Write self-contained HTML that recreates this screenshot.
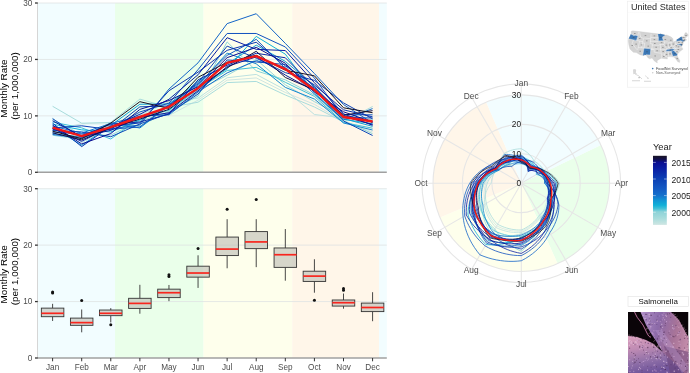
<!DOCTYPE html>
<html><head><meta charset="utf-8"><style>
html,body{margin:0;padding:0;background:#fff;width:690px;height:373px;overflow:hidden}
svg{display:block;will-change:transform}
text{font-family:"Liberation Sans",sans-serif}
.tk{font-size:8.2px;fill:#4d4d4d}
.yt{font-size:9.9px;fill:#000}
.pl{font-size:8.4px;fill:#4d4d4d}
.pr{font-size:8.4px;fill:#1a1a1a}
.lg{font-size:9.3px;fill:#1a1a1a}
.lt{font-size:8.6px;fill:#1a1a1a}
</style></head><body>
<svg width="690" height="373" viewBox="0 0 690 373">
<rect x="37.50" y="3.01" width="77.59" height="169.29" fill="#f2fdff"/><rect x="115.09" y="3.01" width="88.49" height="169.29" fill="#eaffea"/><rect x="203.58" y="3.01" width="88.72" height="169.29" fill="#feffec"/><rect x="292.30" y="3.01" width="86.69" height="169.29" fill="#fff6e9"/><rect x="378.99" y="3.01" width="7.81" height="169.29" fill="#f2fdff"/>
<line x1="37.5" x2="386.8" y1="115.87" y2="115.87" stroke="#dfe3e3" stroke-width="0.8"/>
<line x1="37.5" x2="386.8" y1="59.44" y2="59.44" stroke="#dfe3e3" stroke-width="0.8"/>
<line x1="37.5" x2="386.8" y1="3.01" y2="3.01" stroke="#dfe3e3" stroke-width="0.8"/>
<polyline points="52.60,129.86 81.69,123.77 110.78,123.88 139.87,113.32 168.96,115.47 198.05,100.16 227.14,80.16 256.23,77.92 285.32,92.45 314.41,104.35 343.50,121.50 372.59,131.85" fill="none" stroke="#cfe6e3" stroke-width="1.0" stroke-linejoin="round"/>
<polyline points="52.60,118.13 81.69,142.63 110.78,127.30 139.87,115.26 168.96,101.85 198.05,98.11 227.14,77.74 256.23,74.40 285.32,89.92 314.41,114.52 343.50,117.97 372.59,120.54" fill="none" stroke="#bce1e0" stroke-width="1.0" stroke-linejoin="round"/>
<polyline points="52.60,106.28 81.69,123.21 110.78,122.42 139.87,99.11 168.96,107.48 198.05,102.21 227.14,82.58 256.23,81.45 285.32,94.99 314.41,107.01 343.50,121.99 372.59,106.50" fill="none" stroke="#a8dcdc" stroke-width="1.0" stroke-linejoin="round"/>
<polyline points="52.60,119.45 81.69,134.77 110.78,135.16 139.87,121.02 168.96,112.09 198.05,90.06 227.14,75.32 256.23,59.42 285.32,84.84 314.41,101.70 343.50,116.74 372.59,119.70" fill="none" stroke="#9ad8da" stroke-width="1.0" stroke-linejoin="round"/>
<polyline points="52.60,135.28 81.69,139.24 110.78,124.80 139.87,125.98 168.96,111.22 198.05,96.06 227.14,41.90 256.23,70.87 285.32,79.87 314.41,94.97 343.50,120.51 372.59,133.68" fill="none" stroke="#8dd3d8" stroke-width="1.0" stroke-linejoin="round"/>
<polyline points="52.60,122.09 81.69,127.83 110.78,139.01 139.87,118.15 168.96,110.28 198.05,89.28 227.14,70.48 256.23,67.35 285.32,82.31 314.41,96.39 343.50,122.49 372.59,128.20" fill="none" stroke="#40c0d8" stroke-width="1.0" stroke-linejoin="round"/>
<polyline points="52.60,124.15 81.69,129.86 110.78,131.97 139.87,120.07 168.96,106.67 198.05,88.49 227.14,68.95 256.23,36.40 285.32,54.16 314.41,92.95 343.50,119.26 372.59,123.76" fill="none" stroke="#10b0d8" stroke-width="1.0" stroke-linejoin="round"/>
<polyline points="52.60,127.11 81.69,145.29 110.78,125.43 139.87,104.25 168.96,103.96 198.05,81.46 227.14,64.01 256.23,45.17 285.32,61.36 314.41,86.21 343.50,118.61 372.59,126.37" fill="none" stroke="#119dd5" stroke-width="1.0" stroke-linejoin="round"/>
<polyline points="52.60,133.65 81.69,137.18 110.78,122.78 139.87,128.00 168.96,105.32 198.05,85.37 227.14,53.09 256.23,63.82 285.32,87.38 314.41,99.04 343.50,122.98 372.59,130.03" fill="none" stroke="#1388d1" stroke-width="1.0" stroke-linejoin="round"/>
<polyline points="52.60,126.12 81.69,133.05 110.78,123.51 139.87,116.22 168.96,114.80 198.05,91.95 227.14,72.90 256.23,60.70 285.32,67.10 314.41,93.96 343.50,119.90 372.59,108.58" fill="none" stroke="#1470cc" stroke-width="1.0" stroke-linejoin="round"/>
<polyline points="52.60,134.47 81.69,138.21 110.78,128.74 139.87,124.97 168.96,89.07 198.05,62.83 227.14,23.61 256.23,13.73 285.32,43.36 314.41,73.55 343.50,104.58 372.59,122.97" fill="none" stroke="#1465c8" stroke-width="1.0" stroke-linejoin="round"/>
<polyline points="52.60,132.01 81.69,133.91 110.78,129.19 139.87,126.99 168.96,104.64 198.05,84.06 227.14,55.38 256.23,39.32 285.32,68.39 314.41,88.08 343.50,114.68 372.59,114.80" fill="none" stroke="#145ac4" stroke-width="1.0" stroke-linejoin="round"/>
<polyline points="52.60,118.69 81.69,137.69 110.78,128.28 139.87,111.95 168.96,103.13 198.05,69.60 227.14,33.48 256.23,33.48 285.32,46.96 314.41,78.10 343.50,117.32 372.59,118.02" fill="none" stroke="#1151bf" stroke-width="1.0" stroke-linejoin="round"/>
<polyline points="52.60,130.51 81.69,131.90 110.78,136.75 139.87,123.96 168.96,113.44 198.05,94.00 227.14,59.96 256.23,61.98 285.32,64.52 314.41,89.02 343.50,121.00 372.59,135.51" fill="none" stroke="#0f49b9" stroke-width="1.0" stroke-linejoin="round"/>
<polyline points="52.60,127.93 81.69,125.80 110.78,129.64 139.87,106.82 168.96,105.99 198.05,82.76 227.14,46.11 256.23,58.14 285.32,72.64 314.41,80.38 343.50,102.89 372.59,118.86" fill="none" stroke="#0c40b4" stroke-width="1.0" stroke-linejoin="round"/>
<polyline points="52.60,123.16 81.69,146.62 110.78,126.05 139.87,122.95 168.96,90.76 198.05,72.16 227.14,50.32 256.23,42.25 285.32,65.81 314.41,84.94 343.50,109.80 372.59,116.87" fill="none" stroke="#0b35af" stroke-width="1.0" stroke-linejoin="round"/>
<polyline points="52.60,129.22 81.69,135.63 110.78,124.24 139.87,121.98 168.96,114.12 198.05,79.85 227.14,65.24 256.23,53.27 285.32,57.76 314.41,87.15 343.50,115.71 372.59,121.38" fill="none" stroke="#0b2ba9" stroke-width="1.0" stroke-linejoin="round"/>
<polyline points="52.60,128.57 81.69,141.29 110.78,126.67 139.87,114.29 168.96,99.28 198.05,74.72 227.14,37.69 256.23,49.34 285.32,50.56 314.41,82.66 343.50,113.79 372.59,125.33" fill="none" stroke="#0a20a4" stroke-width="1.0" stroke-linejoin="round"/>
<polyline points="52.60,120.77 81.69,136.49 110.78,130.38 139.87,117.19 168.96,112.77 198.05,90.85 227.14,66.48 256.23,56.86 285.32,75.05 314.41,90.93 343.50,116.22 372.59,124.54" fill="none" stroke="#0a179b" stroke-width="1.0" stroke-linejoin="round"/>
<polyline points="52.60,125.14 81.69,143.96 110.78,133.56 139.87,109.39 168.96,100.56 198.05,86.67 227.14,57.67 256.23,47.37 285.32,63.23 314.41,91.94 343.50,111.79 372.59,122.19" fill="none" stroke="#0a0e92" stroke-width="1.0" stroke-linejoin="round"/>
<polyline points="52.60,132.83 81.69,139.96 110.78,127.83 139.87,119.11 168.96,109.35 198.05,87.71 227.14,67.72 256.23,51.31 285.32,77.46 314.41,89.95 343.50,115.19 372.59,110.65" fill="none" stroke="#121048" stroke-width="1.0" stroke-linejoin="round"/>
<polyline points="52.60,131.20 81.69,138.72 110.78,123.15 139.87,101.68 168.96,108.41 198.05,77.29 227.14,62.25 256.23,55.24 285.32,70.24 314.41,75.83 343.50,107.80 372.59,112.73" fill="none" stroke="#181424" stroke-width="1.0" stroke-linejoin="round"/>
<polyline points="52.60,127.72 81.69,136.18 110.78,127.16 139.87,117.00 168.96,106.84 198.05,88.22 227.14,62.83 256.23,56.05 285.32,69.03 314.41,89.91 343.50,117.00 372.59,121.51" fill="none" stroke="#f01818" stroke-width="2.4" stroke-linejoin="round"/>
<line x1="37.5" x2="37.5" y1="3.01" y2="172.30" stroke="#d6d6d6" stroke-width="1.0"/>
<line x1="37.5" x2="386.8" y1="172.30" y2="172.30" stroke="#a0a0a0" stroke-width="1.4"/>
<line x1="35" x2="37.8" y1="172.30" y2="172.30" stroke="#333" stroke-width="1.3"/>
<text x="32.3" y="175.20" text-anchor="end" class="tk">0</text>
<line x1="35" x2="37.8" y1="115.87" y2="115.87" stroke="#333" stroke-width="1.3"/>
<text x="32.3" y="118.77" text-anchor="end" class="tk">10</text>
<line x1="35" x2="37.8" y1="59.44" y2="59.44" stroke="#333" stroke-width="1.3"/>
<text x="32.3" y="62.34" text-anchor="end" class="tk">20</text>
<line x1="35" x2="37.8" y1="3.01" y2="3.01" stroke="#333" stroke-width="1.3"/>
<text x="32.3" y="5.91" text-anchor="end" class="tk">30</text>
<rect x="37.50" y="188.71" width="77.59" height="169.29" fill="#f2fdff"/><rect x="115.09" y="188.71" width="88.49" height="169.29" fill="#eaffea"/><rect x="203.58" y="188.71" width="88.72" height="169.29" fill="#feffec"/><rect x="292.30" y="188.71" width="86.69" height="169.29" fill="#fff6e9"/><rect x="378.99" y="188.71" width="7.81" height="169.29" fill="#f2fdff"/>
<line x1="37.5" x2="386.8" y1="301.57" y2="301.57" stroke="#dfe3e3" stroke-width="0.8"/>
<line x1="37.5" x2="386.8" y1="245.14" y2="245.14" stroke="#dfe3e3" stroke-width="0.8"/>
<line x1="37.5" x2="386.8" y1="188.71" y2="188.71" stroke="#dfe3e3" stroke-width="0.8"/>
<line x1="52.60" x2="52.60" y1="303.83" y2="308.12" stroke="#333" stroke-width="0.9"/>
<line x1="52.60" x2="52.60" y1="316.69" y2="320.98" stroke="#333" stroke-width="0.9"/>
<rect x="41.35" y="308.12" width="22.5" height="8.58" fill="#bdbdb5" fill-opacity="0.62" stroke="#333" stroke-width="0.9"/>
<line x1="41.35" x2="63.85" y1="313.31" y2="313.31" stroke="#f8261e" stroke-width="1.7"/>
<circle cx="52.60" cy="293.11" r="1.5" fill="#111"/>
<circle cx="52.60" cy="291.98" r="1.5" fill="#111"/>
<line x1="81.69" x2="81.69" y1="309.47" y2="318.10" stroke="#333" stroke-width="0.9"/>
<line x1="81.69" x2="81.69" y1="325.33" y2="332.32" stroke="#333" stroke-width="0.9"/>
<rect x="70.44" y="318.10" width="22.5" height="7.22" fill="#bdbdb5" fill-opacity="0.62" stroke="#333" stroke-width="0.9"/>
<line x1="70.44" x2="92.94" y1="322.62" y2="322.62" stroke="#f8261e" stroke-width="1.7"/>
<circle cx="81.69" cy="300.44" r="1.5" fill="#111"/>
<line x1="110.78" x2="110.78" y1="308.12" y2="310.03" stroke="#333" stroke-width="0.9"/>
<line x1="110.78" x2="110.78" y1="315.68" y2="322.45" stroke="#333" stroke-width="0.9"/>
<rect x="99.53" y="310.03" width="22.5" height="5.64" fill="#bdbdb5" fill-opacity="0.62" stroke="#333" stroke-width="0.9"/>
<line x1="99.53" x2="122.03" y1="313.31" y2="313.31" stroke="#f8261e" stroke-width="1.7"/>
<circle cx="110.78" cy="324.71" r="1.5" fill="#111"/>
<line x1="139.87" x2="139.87" y1="284.81" y2="298.30" stroke="#333" stroke-width="0.9"/>
<line x1="139.87" x2="139.87" y1="308.40" y2="313.70" stroke="#333" stroke-width="0.9"/>
<rect x="128.62" y="298.30" width="22.5" height="10.10" fill="#bdbdb5" fill-opacity="0.62" stroke="#333" stroke-width="0.9"/>
<line x1="128.62" x2="151.12" y1="303.38" y2="303.38" stroke="#f8261e" stroke-width="1.7"/>
<line x1="168.96" x2="168.96" y1="284.98" y2="289.16" stroke="#333" stroke-width="0.9"/>
<line x1="168.96" x2="168.96" y1="297.62" y2="301.17" stroke="#333" stroke-width="0.9"/>
<rect x="157.71" y="289.16" width="22.5" height="8.46" fill="#bdbdb5" fill-opacity="0.62" stroke="#333" stroke-width="0.9"/>
<line x1="157.71" x2="180.21" y1="292.71" y2="292.71" stroke="#f8261e" stroke-width="1.7"/>
<circle cx="168.96" cy="276.46" r="1.5" fill="#111"/>
<circle cx="168.96" cy="274.77" r="1.5" fill="#111"/>
<line x1="198.05" x2="198.05" y1="255.30" y2="266.19" stroke="#333" stroke-width="0.9"/>
<line x1="198.05" x2="198.05" y1="277.14" y2="287.91" stroke="#333" stroke-width="0.9"/>
<rect x="186.80" y="266.19" width="22.5" height="10.95" fill="#bdbdb5" fill-opacity="0.62" stroke="#333" stroke-width="0.9"/>
<line x1="186.80" x2="209.30" y1="273.02" y2="273.02" stroke="#f8261e" stroke-width="1.7"/>
<circle cx="198.05" cy="248.53" r="1.5" fill="#111"/>
<line x1="227.14" x2="227.14" y1="219.18" y2="237.07" stroke="#333" stroke-width="0.9"/>
<line x1="227.14" x2="227.14" y1="255.58" y2="268.28" stroke="#333" stroke-width="0.9"/>
<rect x="215.89" y="237.07" width="22.5" height="18.51" fill="#bdbdb5" fill-opacity="0.62" stroke="#333" stroke-width="0.9"/>
<line x1="215.89" x2="238.39" y1="249.09" y2="249.09" stroke="#f8261e" stroke-width="1.7"/>
<circle cx="227.14" cy="209.31" r="1.5" fill="#111"/>
<line x1="256.23" x2="256.23" y1="219.18" y2="231.60" stroke="#333" stroke-width="0.9"/>
<line x1="256.23" x2="256.23" y1="248.64" y2="267.15" stroke="#333" stroke-width="0.9"/>
<rect x="244.98" y="231.60" width="22.5" height="17.04" fill="#bdbdb5" fill-opacity="0.62" stroke="#333" stroke-width="0.9"/>
<line x1="244.98" x2="267.48" y1="241.92" y2="241.92" stroke="#f8261e" stroke-width="1.7"/>
<circle cx="256.23" cy="199.43" r="1.5" fill="#111"/>
<line x1="285.32" x2="285.32" y1="229.06" y2="247.96" stroke="#333" stroke-width="0.9"/>
<line x1="285.32" x2="285.32" y1="267.37" y2="280.69" stroke="#333" stroke-width="0.9"/>
<rect x="274.07" y="247.96" width="22.5" height="19.41" fill="#bdbdb5" fill-opacity="0.62" stroke="#333" stroke-width="0.9"/>
<line x1="274.07" x2="296.57" y1="254.73" y2="254.73" stroke="#f8261e" stroke-width="1.7"/>
<line x1="314.41" x2="314.41" y1="259.25" y2="271.21" stroke="#333" stroke-width="0.9"/>
<line x1="314.41" x2="314.41" y1="281.42" y2="292.71" stroke="#333" stroke-width="0.9"/>
<rect x="303.16" y="271.21" width="22.5" height="10.21" fill="#bdbdb5" fill-opacity="0.62" stroke="#333" stroke-width="0.9"/>
<line x1="303.16" x2="325.66" y1="276.12" y2="276.12" stroke="#f8261e" stroke-width="1.7"/>
<circle cx="314.41" cy="300.22" r="1.5" fill="#111"/>
<line x1="343.50" x2="343.50" y1="293.50" y2="299.99" stroke="#333" stroke-width="0.9"/>
<line x1="343.50" x2="343.50" y1="306.08" y2="308.68" stroke="#333" stroke-width="0.9"/>
<rect x="332.25" y="299.99" width="22.5" height="6.09" fill="#bdbdb5" fill-opacity="0.62" stroke="#333" stroke-width="0.9"/>
<line x1="332.25" x2="354.75" y1="302.70" y2="302.70" stroke="#f8261e" stroke-width="1.7"/>
<circle cx="343.50" cy="290.28" r="1.5" fill="#111"/>
<circle cx="343.50" cy="288.59" r="1.5" fill="#111"/>
<line x1="372.59" x2="372.59" y1="292.20" y2="303.09" stroke="#333" stroke-width="0.9"/>
<line x1="372.59" x2="372.59" y1="311.61" y2="321.21" stroke="#333" stroke-width="0.9"/>
<rect x="361.34" y="303.09" width="22.5" height="8.52" fill="#bdbdb5" fill-opacity="0.62" stroke="#333" stroke-width="0.9"/>
<line x1="361.34" x2="383.84" y1="307.50" y2="307.50" stroke="#f8261e" stroke-width="1.7"/>
<line x1="37.5" x2="37.5" y1="188.71" y2="358.00" stroke="#d6d6d6" stroke-width="1.0"/>
<line x1="37.5" x2="386.8" y1="358.00" y2="358.00" stroke="#a0a0a0" stroke-width="1.4"/>
<line x1="35" x2="37.8" y1="358.00" y2="358.00" stroke="#333" stroke-width="1.3"/>
<text x="32.3" y="360.90" text-anchor="end" class="tk">0</text>
<line x1="35" x2="37.8" y1="301.57" y2="301.57" stroke="#333" stroke-width="1.3"/>
<text x="32.3" y="304.47" text-anchor="end" class="tk">10</text>
<line x1="35" x2="37.8" y1="245.14" y2="245.14" stroke="#333" stroke-width="1.3"/>
<text x="32.3" y="248.04" text-anchor="end" class="tk">20</text>
<line x1="35" x2="37.8" y1="188.71" y2="188.71" stroke="#333" stroke-width="1.3"/>
<text x="32.3" y="191.61" text-anchor="end" class="tk">30</text>
<line x1="52.60" x2="52.60" y1="358.00" y2="361.30" stroke="#333" stroke-width="1"/>
<text x="52.60" y="369.8" text-anchor="middle" class="tk">Jan</text>
<line x1="81.69" x2="81.69" y1="358.00" y2="361.30" stroke="#333" stroke-width="1"/>
<text x="81.69" y="369.8" text-anchor="middle" class="tk">Feb</text>
<line x1="110.78" x2="110.78" y1="358.00" y2="361.30" stroke="#333" stroke-width="1"/>
<text x="110.78" y="369.8" text-anchor="middle" class="tk">Mar</text>
<line x1="139.87" x2="139.87" y1="358.00" y2="361.30" stroke="#333" stroke-width="1"/>
<text x="139.87" y="369.8" text-anchor="middle" class="tk">Apr</text>
<line x1="168.96" x2="168.96" y1="358.00" y2="361.30" stroke="#333" stroke-width="1"/>
<text x="168.96" y="369.8" text-anchor="middle" class="tk">May</text>
<line x1="198.05" x2="198.05" y1="358.00" y2="361.30" stroke="#333" stroke-width="1"/>
<text x="198.05" y="369.8" text-anchor="middle" class="tk">Jun</text>
<line x1="227.14" x2="227.14" y1="358.00" y2="361.30" stroke="#333" stroke-width="1"/>
<text x="227.14" y="369.8" text-anchor="middle" class="tk">Jul</text>
<line x1="256.23" x2="256.23" y1="358.00" y2="361.30" stroke="#333" stroke-width="1"/>
<text x="256.23" y="369.8" text-anchor="middle" class="tk">Aug</text>
<line x1="285.32" x2="285.32" y1="358.00" y2="361.30" stroke="#333" stroke-width="1"/>
<text x="285.32" y="369.8" text-anchor="middle" class="tk">Sep</text>
<line x1="314.41" x2="314.41" y1="358.00" y2="361.30" stroke="#333" stroke-width="1"/>
<text x="314.41" y="369.8" text-anchor="middle" class="tk">Oct</text>
<line x1="343.50" x2="343.50" y1="358.00" y2="361.30" stroke="#333" stroke-width="1"/>
<text x="343.50" y="369.8" text-anchor="middle" class="tk">Nov</text>
<line x1="372.59" x2="372.59" y1="358.00" y2="361.30" stroke="#333" stroke-width="1"/>
<text x="372.59" y="369.8" text-anchor="middle" class="tk">Dec</text>
<text transform="translate(7.0,88.65) rotate(-90)" text-anchor="middle" class="yt">Monthly Rate</text>
<text transform="translate(17.9,85.90) rotate(-90)" text-anchor="middle" class="yt">(per 1,000,000)</text>
<text transform="translate(7.0,274.35) rotate(-90)" text-anchor="middle" class="yt">Monthly Rate</text>
<text transform="translate(17.9,271.60) rotate(-90)" text-anchor="middle" class="yt">(per 1,000,000)</text>
<path d="M521.3,183.2 L600.96,145.10 A88.3,88.3 0 0 1 557.64,263.68 Z" fill="#eaffea"/>
<path d="M521.3,183.2 L557.64,263.68 A88.3,88.3 0 0 1 439.90,217.42 Z" fill="#feffec"/>
<path d="M521.3,183.2 L439.90,217.42 A88.3,88.3 0 0 1 486.23,102.16 Z" fill="#fff6e9"/>
<path d="M521.3,183.2 L486.23,102.16 A88.3,88.3 0 0 1 600.96,145.10 Z" fill="#f2fdff"/>
<circle cx="521.3" cy="183.2" r="29.43" fill="none" stroke="#e6e6e6" stroke-width="1.1"/>
<circle cx="521.3" cy="183.2" r="58.87" fill="none" stroke="#e6e6e6" stroke-width="1.1"/>
<circle cx="521.3" cy="183.2" r="88.30" fill="none" stroke="#e6e6e6" stroke-width="1.1"/>
<circle cx="521.3" cy="183.2" r="99.34" fill="none" stroke="#e6e6e6" stroke-width="1.1"/>
<line x1="521.3" y1="183.2" x2="521.30" y2="83.86" stroke="#e6e6e6" stroke-width="1.1"/>
<line x1="521.3" y1="183.2" x2="570.97" y2="97.17" stroke="#e6e6e6" stroke-width="1.1"/>
<line x1="521.3" y1="183.2" x2="607.33" y2="133.53" stroke="#e6e6e6" stroke-width="1.1"/>
<line x1="521.3" y1="183.2" x2="620.64" y2="183.20" stroke="#e6e6e6" stroke-width="1.1"/>
<line x1="521.3" y1="183.2" x2="607.33" y2="232.87" stroke="#e6e6e6" stroke-width="1.1"/>
<line x1="521.3" y1="183.2" x2="570.97" y2="269.23" stroke="#e6e6e6" stroke-width="1.1"/>
<line x1="521.3" y1="183.2" x2="521.30" y2="282.54" stroke="#e6e6e6" stroke-width="1.1"/>
<line x1="521.3" y1="183.2" x2="471.63" y2="269.23" stroke="#e6e6e6" stroke-width="1.1"/>
<line x1="521.3" y1="183.2" x2="435.27" y2="232.87" stroke="#e6e6e6" stroke-width="1.1"/>
<line x1="521.3" y1="183.2" x2="421.96" y2="183.20" stroke="#e6e6e6" stroke-width="1.1"/>
<line x1="521.3" y1="183.2" x2="435.27" y2="133.53" stroke="#e6e6e6" stroke-width="1.1"/>
<line x1="521.3" y1="183.2" x2="471.63" y2="97.17" stroke="#e6e6e6" stroke-width="1.1"/>
<polyline points="521.30,161.07 522.48,160.78 523.68,160.56 524.91,160.40 526.17,160.31 527.44,160.29 528.73,160.34 530.03,160.46 531.34,160.66 532.65,160.93 533.96,161.28 535.08,161.98 536.17,162.73 537.22,163.54 538.22,164.41 539.18,165.32 540.09,166.29 540.94,167.29 541.74,168.35 542.49,169.44 543.17,170.57 544.29,171.48 545.38,172.48 546.42,173.56 547.41,174.71 548.35,175.95 549.24,177.26 550.05,178.65 550.80,180.10 551.47,181.62 552.06,183.20 551.91,184.80 551.67,186.39 551.35,187.96 550.95,189.50 550.47,191.02 549.92,192.50 549.29,193.94 548.58,195.35 547.81,196.71 546.97,198.02 546.83,199.78 546.57,201.56 546.20,203.36 545.70,205.17 545.08,206.98 544.34,208.79 543.47,210.58 542.48,212.35 541.36,214.09 540.11,215.79 538.86,217.66 537.45,219.48 535.91,221.25 534.22,222.95 532.39,224.58 530.42,226.13 528.33,227.58 526.11,228.92 523.76,230.15 521.30,231.26 518.78,231.31 516.25,231.23 513.73,231.01 511.21,230.67 508.71,230.19 506.23,229.57 503.78,228.83 501.37,227.96 499.00,226.96 496.69,225.83 494.90,223.85 493.26,221.80 491.75,219.69 490.39,217.53 489.17,215.33 488.10,213.10 487.17,210.84 486.38,208.57 485.74,206.30 485.23,204.02 484.75,201.83 484.39,199.63 484.16,197.46 484.05,195.30 484.07,193.18 484.21,191.08 484.46,189.04 484.82,187.03 485.29,185.09 485.86,183.20 486.80,181.39 487.83,179.68 488.95,178.08 490.13,176.58 491.39,175.18 492.70,173.91 494.06,172.74 495.46,171.69 496.89,170.76 498.35,169.95 499.53,169.06 500.74,168.26 501.97,167.54 503.21,166.91 504.47,166.37 505.74,165.92 507.00,165.55 508.26,165.26 509.52,165.05 510.75,164.93 511.68,164.31 512.63,163.74 513.63,163.21 514.65,162.74 515.71,162.32 516.78,161.96 517.89,161.65 519.01,161.39 520.15,161.20 521.30,161.07" fill="none" stroke="#cfe6e3" stroke-width="0.8"/>
<polyline points="521.30,154.94 522.71,156.26 523.99,157.64 525.12,159.08 526.11,160.56 526.96,162.08 527.66,163.62 528.22,165.17 528.63,166.73 528.91,168.27 529.04,169.80 530.17,169.55 531.34,169.38 532.55,169.31 533.80,169.32 535.07,169.43 536.37,169.63 537.68,169.94 539.00,170.34 540.32,170.85 541.63,171.46 542.77,172.26 543.89,173.14 544.97,174.11 546.01,175.17 547.01,176.31 547.95,177.54 548.83,178.84 549.64,180.22 550.39,181.68 551.05,183.20 551.71,184.79 552.28,186.46 552.76,188.18 553.14,189.97 553.42,191.81 553.59,193.69 553.65,195.62 553.59,197.58 553.42,199.57 553.12,201.57 552.28,203.32 551.34,205.03 550.31,206.69 549.19,208.31 547.97,209.87 546.67,211.38 545.28,212.82 543.82,214.19 542.27,215.49 540.65,216.71 539.35,218.63 537.90,220.49 536.31,222.30 534.57,224.05 532.69,225.71 530.67,227.29 528.52,228.77 526.23,230.14 523.83,231.39 521.30,232.52 518.71,232.63 516.11,232.60 513.50,232.43 510.90,232.13 508.31,231.68 505.74,231.10 503.19,230.39 500.67,229.53 498.20,228.54 495.77,227.42 493.93,225.35 492.24,223.20 490.69,221.00 489.30,218.74 488.05,216.45 486.96,214.12 486.02,211.77 485.23,209.41 484.58,207.04 484.09,204.68 484.16,202.13 484.39,199.63 484.78,197.22 485.31,194.89 485.99,192.66 486.80,190.53 487.73,188.52 488.77,186.62 489.92,184.84 491.16,183.20 491.38,181.63 491.68,180.09 492.06,178.57 492.52,177.08 493.06,175.63 493.66,174.22 494.34,172.85 495.08,171.53 495.89,170.25 496.76,169.03 497.64,167.84 498.59,166.70 499.59,165.62 500.64,164.60 501.73,163.63 502.88,162.74 504.06,161.91 505.27,161.14 506.52,160.44 507.80,159.82 508.99,159.03 510.22,158.31 511.49,157.64 512.80,157.04 514.15,156.51 515.53,156.05 516.94,155.66 518.37,155.35 519.83,155.11 521.30,154.94" fill="none" stroke="#bce1e0" stroke-width="0.8"/>
<polyline points="521.30,148.76 523.06,149.69 524.72,150.71 526.27,151.80 527.73,152.97 529.07,154.20 530.30,155.49 531.43,156.82 532.43,158.19 533.33,159.60 534.10,161.02 535.27,161.69 536.40,162.42 537.49,163.20 538.54,164.05 539.55,164.95 540.51,165.90 541.42,166.90 542.28,167.95 543.09,169.05 543.83,170.19 545.57,170.84 547.29,171.63 549.00,172.57 550.67,173.66 552.30,174.89 553.88,176.27 555.40,177.80 556.85,179.46 558.21,181.27 559.48,183.20 558.99,185.18 558.40,187.10 557.71,188.97 556.93,190.77 556.07,192.52 555.12,194.19 554.09,195.79 552.98,197.31 551.81,198.75 550.58,200.11 549.89,201.76 549.10,203.40 548.22,205.00 547.24,206.56 546.18,208.08 545.03,209.55 543.79,210.97 542.46,212.33 541.06,213.63 539.58,214.86 538.36,216.68 537.00,218.47 535.50,220.20 533.86,221.86 532.09,223.46 530.18,224.97 528.14,226.39 525.98,227.71 523.70,228.91 521.30,230.00 518.85,229.99 516.40,229.86 513.95,229.60 511.52,229.21 509.11,228.69 506.73,228.04 504.38,227.28 502.07,226.38 499.81,225.37 497.61,224.24 495.88,222.35 494.28,220.39 492.81,218.38 491.48,216.32 490.29,214.21 489.23,212.07 488.32,209.91 487.53,207.73 486.89,205.55 486.38,203.36 485.93,201.22 485.61,199.09 485.41,196.98 485.33,194.89 485.38,192.83 485.54,190.80 485.81,188.82 486.19,186.89 486.67,185.02 487.25,183.20 488.07,181.46 488.99,179.80 489.98,178.24 491.05,176.77 492.18,175.40 493.37,174.13 494.61,172.96 495.90,171.89 497.22,170.93 498.58,170.08 498.62,168.47 498.76,166.83 499.02,165.16 499.40,163.48 499.89,161.79 500.50,160.10 501.23,158.41 502.08,156.74 503.05,155.09 504.14,153.48 505.71,152.61 507.33,151.83 508.99,151.13 510.68,150.52 512.40,149.99 514.15,149.56 515.92,149.22 517.70,148.98 519.50,148.82 521.30,148.76" fill="none" stroke="#a8dcdc" stroke-width="0.8"/>
<polyline points="521.30,155.63 522.70,156.47 524.01,157.37 525.24,158.34 526.37,159.36 527.40,160.43 528.34,161.54 529.17,162.69 529.91,163.86 530.55,165.05 531.09,166.25 531.95,166.80 532.78,167.40 533.58,168.03 534.34,168.71 535.07,169.43 535.76,170.18 536.40,170.97 537.01,171.79 537.57,172.64 538.08,173.51 539.22,174.07 540.35,174.72 541.45,175.46 542.53,176.30 543.57,177.23 544.58,178.25 545.53,179.36 546.43,180.56 547.27,181.84 548.05,183.20 548.47,184.62 548.83,186.09 549.10,187.60 549.28,189.15 549.38,190.73 549.40,192.33 549.31,193.95 549.14,195.59 548.87,197.25 548.50,198.90 548.60,200.93 548.57,203.01 548.39,205.13 548.05,207.29 547.57,209.47 546.93,211.66 546.13,213.86 545.16,216.04 544.04,218.21 542.75,220.35 541.12,222.10 539.37,223.79 537.50,225.40 535.51,226.92 533.40,228.35 531.18,229.67 528.85,230.88 526.43,231.98 523.91,232.95 521.30,233.78 518.61,234.54 515.84,235.16 513.00,235.62 510.09,235.92 507.13,236.07 504.13,236.04 501.09,235.84 498.03,235.47 494.95,234.92 491.86,234.19 489.96,231.47 488.25,228.69 486.75,225.86 485.45,223.01 484.36,220.14 483.46,217.27 482.76,214.41 482.25,211.57 481.93,208.77 481.80,206.01 481.44,203.51 481.23,201.04 481.18,198.60 481.26,196.21 481.48,193.87 481.84,191.59 482.32,189.37 482.93,187.23 483.65,185.17 484.48,183.20 485.31,181.31 486.24,179.51 487.25,177.81 488.35,176.20 489.52,174.68 490.75,173.28 492.05,171.97 493.39,170.77 494.78,169.69 496.20,168.71 497.13,167.50 498.11,166.35 499.14,165.25 500.22,164.22 501.35,163.25 502.53,162.35 503.74,161.52 504.99,160.75 506.27,160.06 507.58,159.44 508.84,158.74 510.13,158.11 511.45,157.55 512.81,157.06 514.18,156.64 515.58,156.29 516.99,156.01 518.42,155.81 519.86,155.68 521.30,155.63" fill="none" stroke="#9ad8da" stroke-width="0.8"/>
<polyline points="521.30,163.89 522.30,164.12 523.28,164.41 524.22,164.74 525.14,165.12 526.03,165.55 526.88,166.01 527.70,166.52 528.48,167.07 529.22,167.65 529.92,168.27 531.10,168.11 532.32,168.03 533.57,168.04 534.85,168.15 536.16,168.34 537.47,168.64 538.80,169.03 540.12,169.52 541.45,170.12 542.76,170.81 543.32,171.98 543.82,173.17 544.26,174.39 544.63,175.62 544.93,176.87 545.17,178.13 545.34,179.39 545.45,180.66 545.49,181.93 545.46,183.20 546.20,184.50 546.86,185.89 547.44,187.34 547.94,188.86 548.35,190.45 548.67,192.09 548.89,193.79 549.00,195.53 549.00,197.31 548.89,199.13 548.68,200.98 548.35,202.86 547.90,204.74 547.33,206.64 546.62,208.52 545.79,210.40 544.83,212.26 543.75,214.09 542.53,215.89 541.18,217.64 540.64,221.15 539.77,224.69 538.59,228.24 537.08,231.77 535.25,235.26 533.09,238.68 530.61,242.01 527.82,245.22 524.71,248.30 521.30,251.22 517.82,249.61 514.51,247.84 511.37,245.90 508.42,243.82 505.65,241.60 503.08,239.26 500.72,236.82 498.55,234.29 496.60,231.68 494.85,229.02 492.74,227.18 490.76,225.24 488.89,223.22 487.16,221.12 485.55,218.95 484.08,216.72 482.74,214.43 481.54,212.09 480.47,209.71 479.55,207.31 479.04,204.73 478.70,202.17 478.50,199.63 478.44,197.12 478.53,194.66 478.76,192.24 479.13,189.88 479.62,187.58 480.23,185.35 480.96,183.20 482.35,181.16 483.83,179.26 485.41,177.52 487.06,175.92 488.77,174.48 490.54,173.21 492.35,172.09 494.19,171.13 496.04,170.33 497.91,169.69 499.22,168.86 500.56,168.13 501.91,167.50 503.27,166.96 504.63,166.53 505.98,166.19 507.33,165.94 508.65,165.79 509.95,165.73 511.23,165.76 512.19,165.33 513.17,164.95 514.17,164.63 515.18,164.36 516.19,164.15 517.22,163.99 518.24,163.88 519.26,163.83 520.29,163.83 521.30,163.89" fill="none" stroke="#8dd3d8" stroke-width="0.8"/>
<polyline points="521.30,157.01 522.66,157.34 523.98,157.75 525.26,158.22 526.50,158.75 527.69,159.35 528.84,160.00 529.93,160.71 530.98,161.46 531.97,162.27 532.90,163.11 533.61,164.24 534.25,165.38 534.80,166.53 535.26,167.70 535.64,168.86 535.94,170.02 536.15,171.17 536.29,172.31 536.35,173.42 536.34,174.52 537.74,174.82 539.15,175.25 540.56,175.81 541.95,176.49 543.33,177.30 544.67,178.23 545.97,179.29 547.22,180.48 548.42,181.78 549.54,183.20 549.91,184.70 550.20,186.24 550.41,187.81 550.53,189.41 550.56,191.04 550.50,192.69 550.35,194.35 550.10,196.02 549.76,197.70 549.31,199.37 549.35,201.41 549.24,203.50 548.99,205.63 548.60,207.78 548.05,209.95 547.34,212.12 546.48,214.30 545.47,216.46 544.29,218.60 542.95,220.70 541.40,222.66 539.71,224.55 537.87,226.37 535.89,228.11 533.78,229.76 531.53,231.31 529.15,232.75 526.65,234.07 524.03,235.25 521.30,236.31 518.51,236.40 515.71,236.34 512.92,236.14 510.12,235.79 507.34,235.29 504.59,234.64 501.86,233.85 499.17,232.91 496.52,231.83 493.93,230.61 491.91,228.46 490.04,226.23 488.32,223.92 486.76,221.56 485.35,219.15 484.10,216.70 483.00,214.21 482.06,211.71 481.28,209.19 480.65,206.67 480.13,204.18 479.76,201.69 479.54,199.23 479.45,196.80 479.51,194.40 479.70,192.04 480.02,189.74 480.46,187.49 481.03,185.31 481.71,183.20 483.12,181.20 484.63,179.35 486.23,177.64 487.90,176.10 489.63,174.71 491.41,173.49 493.23,172.43 495.08,171.52 496.94,170.79 498.80,170.21 499.76,169.21 500.76,168.28 501.80,167.41 502.88,166.61 503.98,165.88 505.11,165.22 506.26,164.63 507.43,164.11 508.61,163.66 509.80,163.28 510.71,162.42 511.68,161.60 512.71,160.83 513.80,160.11 514.93,159.44 516.12,158.83 517.35,158.28 518.63,157.79 519.95,157.36 521.30,157.01" fill="none" stroke="#40c0d8" stroke-width="0.8"/>
<polyline points="521.30,158.08 522.60,158.42 523.86,158.81 525.09,159.28 526.27,159.80 527.41,160.38 528.51,161.01 529.55,161.70 530.55,162.43 531.48,163.21 532.37,164.03 533.30,164.73 534.18,165.47 535.02,166.25 535.82,167.08 536.56,167.94 537.26,168.83 537.90,169.75 538.50,170.71 539.03,171.68 539.52,172.68 540.60,173.37 541.65,174.14 542.68,174.99 543.67,175.93 544.62,176.95 545.52,178.05 546.37,179.23 547.16,180.48 547.89,181.81 548.54,183.20 549.20,184.66 549.78,186.19 550.28,187.79 550.68,189.45 550.99,191.16 551.20,192.91 551.30,194.72 551.29,196.55 551.18,198.42 550.94,200.32 550.80,202.36 550.53,204.44 550.11,206.53 549.56,208.64 548.86,210.76 548.01,212.87 547.02,214.96 545.88,217.03 544.59,219.07 543.16,221.06 541.61,223.06 539.91,225.00 538.06,226.86 536.07,228.65 533.93,230.35 531.66,231.94 529.25,233.42 526.72,234.78 524.07,236.01 521.30,237.11 518.39,238.73 515.31,240.19 512.07,241.47 508.68,242.57 505.15,243.47 501.49,244.15 497.72,244.62 493.85,244.85 489.89,244.84 485.86,244.59 483.20,241.87 480.73,239.05 478.44,236.13 476.35,233.12 474.45,230.05 472.75,226.91 471.25,223.73 469.95,220.51 468.84,217.27 467.93,214.01 468.20,210.26 468.70,206.62 469.44,203.11 470.39,199.74 471.55,196.53 472.90,193.49 474.42,190.62 476.11,187.95 477.95,185.47 479.91,183.20 481.34,181.11 482.87,179.16 484.49,177.37 486.18,175.74 487.95,174.26 489.77,172.95 491.63,171.81 493.52,170.83 495.43,170.02 497.34,169.37 498.29,168.26 499.30,167.21 500.35,166.23 501.44,165.32 502.57,164.47 503.73,163.69 504.92,162.98 506.14,162.34 507.38,161.77 508.64,161.27 509.81,160.66 511.02,160.11 512.25,159.62 513.50,159.20 514.77,158.84 516.06,158.55 517.36,158.33 518.67,158.18 519.98,158.10 521.30,158.08" fill="none" stroke="#10b0d8" stroke-width="0.8"/>
<polyline points="521.30,159.63 522.48,160.61 523.57,161.65 524.54,162.73 525.41,163.86 526.17,165.01 526.83,166.20 527.37,167.39 527.80,168.60 528.13,169.80 528.34,171.00 529.54,170.52 530.80,170.13 532.12,169.84 533.50,169.65 534.92,169.58 536.39,169.61 537.88,169.77 539.40,170.05 540.94,170.45 542.47,170.98 544.07,171.60 545.65,172.36 547.22,173.25 548.75,174.28 550.25,175.44 551.70,176.74 553.09,178.17 554.40,179.72 555.64,181.40 556.80,183.20 556.76,185.06 556.63,186.91 556.40,188.76 556.08,190.59 555.66,192.41 555.14,194.20 554.53,195.96 553.84,197.69 553.05,199.38 552.17,201.02 552.18,203.25 552.04,205.53 551.74,207.85 551.28,210.19 550.65,212.55 549.86,214.92 548.90,217.28 547.77,219.63 546.47,221.95 544.99,224.23 543.22,226.23 541.31,228.15 539.26,229.98 537.07,231.72 534.74,233.36 532.29,234.89 529.71,236.29 527.01,237.56 524.21,238.70 521.30,239.68 518.29,240.59 515.19,241.33 512.00,241.90 508.74,242.29 505.41,242.51 502.02,242.53 498.59,242.35 495.13,241.98 491.64,241.41 488.14,240.63 485.64,238.11 483.32,235.48 481.16,232.76 479.19,229.97 477.40,227.10 475.79,224.18 474.36,221.21 473.12,218.20 472.06,215.18 471.19,212.13 470.90,208.88 470.81,205.68 470.91,202.54 471.20,199.48 471.67,196.50 472.31,193.61 473.11,190.83 474.07,188.16 475.16,185.62 476.40,183.20 478.15,180.94 480.00,178.86 481.96,176.97 483.99,175.27 486.09,173.77 488.24,172.46 490.42,171.35 492.63,170.44 494.84,169.72 497.05,169.20 498.15,168.17 499.30,167.22 500.48,166.34 501.69,165.55 502.93,164.83 504.19,164.19 505.46,163.64 506.74,163.16 508.03,162.77 509.32,162.45 510.44,161.89 511.59,161.39 512.76,160.94 513.95,160.56 515.15,160.25 516.37,159.99 517.59,159.81 518.83,159.68 520.06,159.62 521.30,159.63" fill="none" stroke="#119dd5" stroke-width="0.8"/>
<polyline points="521.30,163.04 522.35,163.25 523.37,163.52 524.37,163.83 525.34,164.20 526.28,164.62 527.19,165.08 528.06,165.58 528.90,166.13 529.70,166.71 530.46,167.33 531.69,167.21 532.95,167.16 534.25,167.21 535.57,167.35 536.91,167.59 538.26,167.93 539.62,168.36 540.98,168.90 542.33,169.54 543.67,170.29 544.07,171.60 544.40,172.92 544.65,174.24 544.83,175.56 544.93,176.87 544.97,178.17 544.93,179.46 544.82,180.73 544.65,181.98 544.41,183.20 545.56,184.47 546.63,185.86 547.63,187.37 548.53,188.99 549.33,190.71 550.03,192.53 550.60,194.45 551.06,196.45 551.38,198.52 551.56,200.67 551.47,202.80 551.25,204.96 550.88,207.15 550.36,209.36 549.68,211.58 548.86,213.80 547.87,216.01 546.73,218.20 545.43,220.36 543.97,222.47 542.65,225.10 541.11,227.70 539.36,230.25 537.39,232.73 535.21,235.13 532.83,237.43 530.24,239.63 527.45,241.69 524.47,243.61 521.30,245.38 518.08,244.74 514.92,243.93 511.84,242.96 508.84,241.83 505.93,240.56 503.12,239.14 500.42,237.59 497.83,235.91 495.36,234.11 493.01,232.20 491.15,229.62 489.49,226.99 488.01,224.31 486.73,221.60 485.64,218.86 484.73,216.13 484.01,213.39 483.48,210.68 483.12,207.99 482.94,205.35 482.38,203.03 481.95,200.72 481.65,198.42 481.49,196.14 481.45,193.88 481.55,191.65 481.76,189.46 482.09,187.32 482.54,185.23 483.09,183.20 484.39,181.27 485.78,179.47 487.26,177.81 488.81,176.29 490.42,174.93 492.08,173.71 493.79,172.64 495.52,171.72 497.27,170.95 499.02,170.34 500.03,169.39 501.08,168.51 502.16,167.70 503.28,166.97 504.41,166.31 505.56,165.72 506.73,165.21 507.91,164.77 509.09,164.40 510.28,164.10 511.38,163.72 512.49,163.40 513.60,163.14 514.72,162.95 515.84,162.81 516.95,162.74 518.06,162.73 519.15,162.77 520.23,162.88 521.30,163.04" fill="none" stroke="#1388d1" stroke-width="0.8"/>
<polyline points="521.30,159.12 522.54,159.51 523.74,159.97 524.90,160.48 526.01,161.05 527.07,161.68 528.07,162.35 529.03,163.08 529.92,163.84 530.76,164.64 531.54,165.47 532.72,165.61 533.92,165.83 535.12,166.13 536.33,166.51 537.54,166.96 538.73,167.50 539.92,168.12 541.08,168.83 542.22,169.61 543.34,170.48 544.31,171.47 545.24,172.54 546.12,173.67 546.95,174.87 547.72,176.12 548.42,177.44 549.06,178.80 549.63,180.22 550.13,181.69 550.55,183.20 550.58,184.73 550.54,186.27 550.41,187.81 550.20,189.34 549.91,190.87 549.54,192.38 549.09,193.87 548.56,195.34 547.96,196.78 547.27,198.20 547.45,200.18 547.49,202.23 547.39,204.32 547.13,206.46 546.72,208.62 546.15,210.80 545.42,212.99 544.53,215.18 543.48,217.35 542.26,219.50 540.78,221.43 539.15,223.30 537.39,225.11 535.48,226.84 533.43,228.48 531.25,230.02 528.94,231.46 526.51,232.78 523.96,233.98 521.30,235.04 518.55,235.61 515.75,236.03 512.89,236.29 509.99,236.40 507.06,236.35 504.10,236.14 501.12,235.76 498.14,235.21 495.16,234.50 492.20,233.61 489.78,231.74 487.48,229.75 485.30,227.66 483.24,225.47 481.32,223.18 479.53,220.81 477.88,218.36 476.37,215.85 475.00,213.27 473.78,210.64 473.66,207.48 473.73,204.38 474.00,201.36 474.44,198.42 475.06,195.59 475.85,192.86 476.79,190.25 477.87,187.76 479.09,185.41 480.44,183.20 481.84,181.13 483.35,179.21 484.95,177.44 486.62,175.83 488.36,174.38 490.16,173.08 491.99,171.95 493.86,170.98 495.74,170.18 497.63,169.53 497.88,167.99 498.23,166.44 498.68,164.88 499.23,163.33 499.89,161.79 500.64,160.26 501.50,158.75 502.46,157.27 503.52,155.82 504.68,154.42 506.63,154.40 508.53,154.51 510.37,154.73 512.16,155.07 513.88,155.52 515.53,156.06 517.10,156.70 518.59,157.43 519.99,158.23 521.30,159.12" fill="none" stroke="#1470cc" stroke-width="0.8"/>
<polyline points="521.30,163.47 522.32,163.69 523.32,163.96 524.30,164.29 525.24,164.66 526.15,165.08 527.04,165.55 527.88,166.05 528.69,166.60 529.46,167.18 530.19,167.80 531.25,167.87 532.33,168.01 533.42,168.23 534.52,168.52 535.62,168.88 536.72,169.32 537.81,169.83 538.88,170.42 539.94,171.09 540.98,171.84 541.72,172.80 542.42,173.80 543.06,174.85 543.66,175.94 544.20,177.06 544.68,178.23 545.10,179.43 545.46,180.66 545.76,181.92 545.99,183.20 547.82,184.59 549.58,186.17 551.23,187.94 552.77,189.89 554.19,192.01 555.46,194.30 556.59,196.74 557.54,199.33 558.31,202.06 558.90,204.91 558.86,207.59 558.64,210.33 558.23,213.11 557.63,215.91 556.84,218.74 555.84,221.57 554.65,224.38 553.25,227.18 551.65,229.94 549.85,232.65 548.15,235.90 546.19,239.10 543.96,242.24 541.47,245.29 538.73,248.23 535.72,251.06 532.47,253.74 528.98,256.26 525.25,258.61 521.30,260.76 517.21,261.16 513.09,261.36 508.93,261.33 504.75,261.08 500.56,260.60 496.38,259.90 492.21,258.97 488.08,257.82 483.99,256.43 479.95,254.83 477.10,251.27 474.50,247.61 472.17,243.87 470.09,240.07 468.28,236.22 466.73,232.34 465.43,228.44 464.39,224.55 463.60,220.67 463.06,216.83 462.78,213.02 462.74,209.27 462.92,205.61 463.33,202.04 463.94,198.57 464.76,195.22 465.76,192.00 466.94,188.91 468.29,185.98 469.79,183.20 471.48,180.59 473.29,178.15 475.22,175.90 477.25,173.84 479.37,171.96 481.55,170.28 483.79,168.80 486.08,167.52 488.39,166.43 490.71,165.54 492.48,164.49 494.28,163.57 496.09,162.78 497.90,162.13 499.72,161.62 501.52,161.23 503.30,160.97 505.05,160.83 506.76,160.82 508.44,160.92 509.89,160.81 511.32,160.79 512.72,160.86 514.09,161.01 515.42,161.24 516.70,161.55 517.93,161.93 519.11,162.38 520.24,162.89 521.30,163.47" fill="none" stroke="#1465c8" stroke-width="0.8"/>
<polyline points="521.30,162.19 522.39,162.31 523.48,162.50 524.54,162.74 525.59,163.03 526.61,163.38 527.61,163.78 528.58,164.23 529.53,164.73 530.44,165.27 531.31,165.86 532.34,166.20 533.36,166.60 534.37,167.06 535.36,167.59 536.33,168.17 537.28,168.81 538.20,169.51 539.09,170.27 539.95,171.09 540.77,171.96 541.44,172.94 542.05,173.96 542.61,175.02 543.12,176.11 543.57,177.23 543.97,178.38 544.30,179.56 544.57,180.75 544.79,181.97 544.93,183.20 546.06,184.50 547.12,185.91 548.10,187.44 548.98,189.08 549.76,190.83 550.43,192.66 550.98,194.59 551.41,196.61 551.71,198.69 551.86,200.85 551.80,203.01 551.59,205.20 551.23,207.44 550.72,209.69 550.05,211.95 549.22,214.21 548.24,216.46 547.09,218.70 545.78,220.90 544.31,223.06 542.87,225.54 541.24,227.98 539.40,230.36 537.37,232.66 535.15,234.88 532.74,237.00 530.14,239.00 527.36,240.88 524.41,242.61 521.30,244.19 518.06,244.94 514.75,245.52 511.37,245.92 507.92,246.13 504.43,246.15 500.90,245.98 497.34,245.61 493.77,245.03 490.19,244.25 486.62,243.27 484.35,240.10 482.31,236.86 480.51,233.57 478.95,230.24 477.62,226.88 476.52,223.52 475.64,220.17 475.00,216.84 474.57,213.54 474.36,210.30 473.92,207.34 473.66,204.41 473.58,201.52 473.66,198.68 473.91,195.90 474.31,193.19 474.87,190.55 475.57,188.01 476.41,185.55 477.37,183.20 478.82,180.97 480.37,178.90 482.02,176.98 483.76,175.22 485.57,173.63 487.44,172.20 489.36,170.94 491.31,169.85 493.28,168.93 495.27,168.17 496.10,166.83 496.99,165.54 497.96,164.30 498.98,163.11 500.07,161.97 501.21,160.89 502.41,159.88 503.66,158.93 504.96,158.04 506.30,157.23 508.09,157.28 509.83,157.44 511.52,157.72 513.14,158.09 514.70,158.57 516.18,159.13 517.59,159.79 518.92,160.52 520.15,161.32 521.30,162.19" fill="none" stroke="#145ac4" stroke-width="0.8"/>
<polyline points="521.30,155.24 522.71,156.27 524.02,157.36 525.21,158.52 526.29,159.73 527.25,160.98 528.10,162.26 528.83,163.57 529.45,164.90 529.94,166.23 530.33,167.57 531.40,167.65 532.49,167.80 533.59,168.03 534.69,168.33 535.80,168.70 536.90,169.15 538.00,169.68 539.08,170.28 540.14,170.96 541.18,171.72 542.51,172.39 543.83,173.17 545.12,174.06 546.37,175.05 547.59,176.16 548.76,177.36 549.86,178.68 550.91,180.09 551.88,181.60 552.78,183.20 553.19,184.87 553.52,186.59 553.75,188.34 553.89,190.13 553.92,191.94 553.86,193.78 553.69,195.63 553.42,197.50 553.03,199.37 552.54,201.24 553.02,203.80 553.32,206.46 553.41,209.21 553.31,212.02 552.99,214.89 552.46,217.81 551.71,220.75 550.73,223.71 549.52,226.66 548.08,229.59 546.47,232.61 544.62,235.58 542.52,238.49 540.18,241.31 537.60,244.04 534.79,246.65 531.74,249.13 528.47,251.46 524.99,253.63 521.30,255.61 517.51,255.51 513.73,255.21 509.97,254.71 506.25,254.02 502.56,253.14 498.93,252.06 495.35,250.80 491.85,249.35 488.43,247.71 485.10,245.91 482.25,243.34 479.57,240.64 477.06,237.83 474.73,234.92 472.59,231.91 470.63,228.83 468.85,225.67 467.27,222.45 465.88,219.19 464.68,215.89 464.50,212.14 464.54,208.47 464.82,204.88 465.30,201.39 466.00,198.02 466.89,194.77 467.96,191.65 469.21,188.68 470.61,185.86 472.17,183.20 474.28,180.74 476.51,178.49 478.83,176.47 481.25,174.69 483.72,173.13 486.25,171.81 488.80,170.72 491.37,169.87 493.93,169.25 496.47,168.86 497.28,167.60 498.16,166.39 499.10,165.22 500.10,164.11 501.15,163.05 502.26,162.05 503.41,161.11 504.62,160.24 505.86,159.43 507.14,158.68 508.46,158.01 509.81,157.40 511.19,156.87 512.59,156.41 514.02,156.02 515.46,155.71 516.91,155.48 518.37,155.32 519.83,155.24 521.30,155.24" fill="none" stroke="#1151bf" stroke-width="0.8"/>
<polyline points="521.30,161.40 522.44,161.50 523.56,161.67 524.68,161.89 525.77,162.16 526.85,162.49 527.90,162.88 528.93,163.32 529.93,163.82 530.90,164.36 531.84,164.95 532.64,165.74 533.39,166.56 534.08,167.41 534.72,168.29 535.31,169.19 535.83,170.11 536.30,171.05 536.71,172.00 537.06,172.96 537.36,173.93 538.42,174.48 539.46,175.12 540.48,175.84 541.47,176.65 542.43,177.54 543.35,178.51 544.23,179.57 545.05,180.70 545.81,181.92 546.51,183.20 547.03,184.55 547.47,185.95 547.83,187.40 548.11,188.90 548.30,190.44 548.41,192.01 548.42,193.61 548.34,195.24 548.16,196.89 547.89,198.55 547.90,200.47 547.78,202.44 547.52,204.43 547.13,206.46 546.59,208.49 545.91,210.54 545.09,212.57 544.11,214.60 542.99,216.60 541.72,218.57 540.65,221.17 539.36,223.75 537.84,226.30 536.12,228.80 534.17,231.22 532.01,233.57 529.63,235.81 527.05,237.94 524.27,239.94 521.30,241.80 518.24,241.61 515.20,241.27 512.18,240.76 509.20,240.10 506.27,239.29 503.39,238.33 500.57,237.22 497.81,235.96 495.13,234.56 492.53,233.03 490.03,231.35 487.63,229.54 485.34,227.61 483.15,225.57 481.08,223.42 479.13,221.17 477.30,218.83 475.60,216.40 474.04,213.89 472.61,211.31 472.35,208.14 472.28,205.03 472.40,201.97 472.69,198.99 473.17,196.10 473.81,193.29 474.61,190.60 475.56,188.01 476.64,185.54 477.86,183.20 479.59,181.01 481.42,179.01 483.34,177.19 485.34,175.56 487.40,174.12 489.51,172.87 491.65,171.82 493.81,170.96 495.97,170.30 498.13,169.82 499.49,169.04 500.88,168.36 502.27,167.79 503.67,167.32 505.06,166.96 506.43,166.69 507.79,166.52 509.13,166.45 510.44,166.47 511.70,166.58 512.47,165.87 513.28,165.19 514.14,164.55 515.05,163.96 516.00,163.40 516.98,162.90 518.01,162.44 519.08,162.04 520.17,161.69 521.30,161.40" fill="none" stroke="#0f49b9" stroke-width="0.8"/>
<polyline points="521.30,160.06 522.52,159.98 523.74,159.96 524.97,160.01 526.20,160.13 527.43,160.31 528.66,160.56 529.87,160.87 531.07,161.25 532.26,161.69 533.43,162.20 534.40,163.03 535.32,163.90 536.19,164.82 536.99,165.77 537.74,166.76 538.43,167.78 539.06,168.82 539.63,169.89 540.13,170.97 540.57,172.07 542.19,172.56 543.80,173.18 545.41,173.95 546.99,174.85 548.54,175.90 550.05,177.09 551.51,178.42 552.90,179.88 554.22,181.47 555.46,183.20 555.45,184.99 555.35,186.78 555.16,188.56 554.88,190.34 554.50,192.10 554.03,193.83 553.47,195.55 552.82,197.23 552.08,198.88 551.25,200.49 551.32,202.70 551.24,204.95 551.00,207.25 550.60,209.58 550.04,211.94 549.31,214.30 548.40,216.67 547.33,219.02 546.08,221.35 544.65,223.64 543.37,226.51 541.85,229.36 540.09,232.15 538.09,234.89 535.86,237.54 533.39,240.10 530.70,242.54 527.78,244.86 524.64,247.02 521.30,249.02 517.89,248.30 514.55,247.41 511.30,246.35 508.14,245.13 505.08,243.75 502.12,242.22 499.29,240.55 496.57,238.74 493.98,236.81 491.53,234.77 489.28,232.50 487.19,230.15 485.26,227.71 483.48,225.20 481.87,222.63 480.42,220.01 479.14,217.34 478.02,214.64 477.07,211.92 476.28,209.19 475.35,206.61 474.55,204.01 473.90,201.39 473.40,198.76 473.04,196.13 472.83,193.50 472.75,190.89 472.82,188.30 473.02,185.73 473.36,183.20 474.60,180.75 475.96,178.43 477.43,176.25 479.00,174.21 480.66,172.31 482.40,170.56 484.21,168.96 486.08,167.52 488.00,166.23 489.95,165.10 491.64,163.94 493.36,162.90 495.11,161.99 496.87,161.20 498.65,160.55 500.42,160.01 502.19,159.60 503.94,159.30 505.67,159.12 507.36,159.06 508.86,158.79 510.35,158.60 511.82,158.50 513.27,158.49 514.70,158.56 516.09,158.71 517.46,158.94 518.78,159.24 520.06,159.62 521.30,160.06" fill="none" stroke="#0c40b4" stroke-width="0.8"/>
<polyline points="521.30,157.57 522.58,158.83 523.72,160.14 524.74,161.51 525.61,162.92 526.35,164.35 526.95,165.81 527.42,167.27 527.74,168.73 527.94,170.18 528.00,171.60 529.18,171.07 530.43,170.63 531.75,170.29 533.13,170.06 534.56,169.94 536.04,169.93 537.55,170.04 539.08,170.28 540.63,170.65 542.19,171.14 542.94,172.17 543.63,173.26 544.27,174.38 544.86,175.55 545.38,176.75 545.85,177.98 546.24,179.25 546.58,180.54 546.84,181.86 547.04,183.20 548.68,184.64 550.24,186.24 551.70,188.01 553.05,189.95 554.27,192.03 555.36,194.27 556.30,196.64 557.09,199.13 557.70,201.75 558.13,204.47 557.78,206.89 557.28,209.34 556.61,211.80 555.79,214.26 554.80,216.70 553.65,219.13 552.34,221.53 550.86,223.89 549.22,226.19 547.42,228.43 545.53,230.75 543.47,233.00 541.24,235.15 538.85,237.21 536.29,239.15 533.58,240.98 530.72,242.67 527.71,244.21 524.57,245.60 521.30,246.82 517.95,247.16 514.56,247.31 511.15,247.29 507.72,247.08 504.29,246.69 500.86,246.11 497.44,245.35 494.05,244.40 490.69,243.27 487.38,241.95 485.02,239.06 482.87,236.09 480.93,233.05 479.20,229.96 477.68,226.82 476.37,223.66 475.27,220.48 474.37,217.29 473.69,214.12 473.20,210.97 472.70,207.96 472.38,204.98 472.24,202.03 472.27,199.13 472.47,196.28 472.83,193.50 473.34,190.80 474.00,188.17 474.80,185.64 475.73,183.20 477.09,180.88 478.56,178.71 480.14,176.68 481.80,174.80 483.55,173.08 485.36,171.52 487.23,170.12 489.15,168.89 491.10,167.81 493.07,166.90 494.27,165.65 495.52,164.47 496.83,163.38 498.17,162.37 499.55,161.45 500.97,160.62 502.41,159.87 503.87,159.21 505.35,158.65 506.85,158.16 508.32,157.73 509.81,157.39 511.29,157.13 512.77,156.95 514.24,156.86 515.70,156.85 517.14,156.91 518.55,157.06 519.94,157.28 521.30,157.57" fill="none" stroke="#0b35af" stroke-width="0.8"/>
<polyline points="521.30,160.73 522.46,161.09 523.58,161.52 524.66,162.00 525.69,162.53 526.68,163.11 527.62,163.74 528.51,164.41 529.35,165.12 530.14,165.86 530.86,166.64 532.04,166.66 533.24,166.76 534.46,166.95 535.69,167.22 536.92,167.58 538.16,168.02 539.40,168.55 540.62,169.16 541.82,169.87 543.01,170.67 543.74,171.77 544.41,172.91 545.03,174.09 545.59,175.31 546.08,176.56 546.51,177.84 546.87,179.15 547.17,180.48 547.39,181.83 547.55,183.20 547.92,184.60 548.22,186.03 548.44,187.50 548.58,189.00 548.63,190.52 548.60,192.07 548.48,193.63 548.27,195.21 547.97,196.79 547.58,198.37 548.25,200.70 548.74,203.14 549.05,205.67 549.17,208.29 549.08,210.98 548.78,213.72 548.27,216.51 547.54,219.32 546.59,222.14 545.41,224.96 543.54,226.84 541.53,228.64 539.40,230.35 537.14,231.96 534.77,233.46 532.28,234.84 529.68,236.09 526.98,237.22 524.18,238.20 521.30,239.04 518.34,239.59 515.33,239.98 512.27,240.20 509.17,240.26 506.04,240.15 502.89,239.87 499.72,239.41 496.56,238.78 493.40,237.96 490.26,236.97 487.61,235.07 485.08,233.05 482.67,230.90 480.38,228.64 478.23,226.27 476.21,223.80 474.33,221.24 472.59,218.59 471.00,215.87 469.56,213.07 469.43,209.63 469.52,206.25 469.82,202.96 470.31,199.77 471.00,196.68 471.86,193.71 472.89,190.87 474.08,188.16 475.42,185.60 476.89,183.20 478.43,180.95 480.09,178.87 481.85,176.95 483.68,175.20 485.59,173.63 487.56,172.24 489.57,171.02 491.61,169.98 493.67,169.12 495.74,168.44 496.79,167.28 497.90,166.20 499.05,165.18 500.24,164.24 501.47,163.37 502.74,162.58 504.03,161.87 505.34,161.23 506.67,160.68 508.02,160.20 509.43,159.90 510.83,159.68 512.22,159.55 513.60,159.49 514.95,159.52 516.29,159.62 517.59,159.79 518.87,160.04 520.10,160.35 521.30,160.73" fill="none" stroke="#0b2ba9" stroke-width="0.8"/>
<polyline points="521.30,160.39 522.46,161.09 523.55,161.84 524.56,162.64 525.49,163.49 526.34,164.37 527.12,165.30 527.81,166.24 528.42,167.21 528.94,168.20 529.39,169.19 530.52,169.00 531.70,168.88 532.92,168.85 534.16,168.91 535.43,169.07 536.72,169.32 538.02,169.66 539.32,170.11 540.62,170.65 541.91,171.30 543.08,172.10 544.22,172.99 545.33,173.98 546.39,175.05 547.41,176.20 548.37,177.45 549.27,178.77 550.11,180.17 550.87,181.65 551.56,183.20 552.30,184.82 552.95,186.53 553.50,188.30 553.96,190.14 554.31,192.04 554.54,194.00 554.66,196.01 554.66,198.05 554.54,200.14 554.28,202.24 554.32,204.64 554.19,207.09 553.89,209.59 553.41,212.11 552.76,214.66 551.93,217.22 550.91,219.77 549.71,222.30 548.32,224.81 546.75,227.28 545.28,230.27 543.57,233.22 541.62,236.12 539.42,238.95 536.97,241.69 534.29,244.32 531.38,246.82 528.24,249.18 524.87,251.39 521.30,253.41 517.66,252.71 514.09,251.82 510.60,250.75 507.21,249.50 503.91,248.08 500.73,246.51 497.66,244.78 494.72,242.90 491.91,240.89 489.23,238.74 486.40,236.93 483.68,234.98 481.06,232.89 478.56,230.67 476.17,228.33 473.92,225.86 471.80,223.28 469.83,220.60 467.99,217.82 466.31,214.95 466.21,211.27 466.35,207.67 466.71,204.16 467.28,200.75 468.05,197.47 469.02,194.31 470.16,191.30 471.47,188.44 472.94,185.73 474.55,183.20 476.23,180.84 478.03,178.65 479.93,176.65 481.92,174.83 483.98,173.20 486.10,171.76 488.26,170.52 490.45,169.47 492.66,168.61 494.87,167.94 496.21,166.91 497.58,165.97 498.99,165.13 500.41,164.39 501.85,163.75 503.30,163.20 504.75,162.76 506.19,162.40 507.63,162.15 509.05,161.98 510.25,161.52 511.47,161.13 512.70,160.80 513.94,160.54 515.18,160.35 516.42,160.23 517.65,160.17 518.88,160.18 520.10,160.26 521.30,160.39" fill="none" stroke="#0a20a4" stroke-width="0.8"/>
<polyline points="521.30,156.32 522.66,157.18 523.94,158.10 525.12,159.08 526.21,160.12 527.20,161.20 528.09,162.32 528.88,163.46 529.56,164.64 530.15,165.83 530.64,167.02 531.65,167.27 532.65,167.57 533.66,167.94 534.65,168.37 535.64,168.86 536.60,169.42 537.55,170.04 538.48,170.72 539.37,171.46 540.24,172.27 541.40,172.96 542.53,173.75 543.64,174.62 544.71,175.59 545.74,176.65 546.73,177.80 547.65,179.03 548.52,180.34 549.32,181.73 550.04,183.20 550.23,184.72 550.35,186.25 550.37,187.80 550.32,189.37 550.18,190.94 549.95,192.51 549.64,194.08 549.25,195.64 548.76,197.19 548.19,198.73 548.30,200.73 548.27,202.80 548.10,204.90 547.77,207.04 547.30,209.20 546.67,211.37 545.88,213.55 544.93,215.72 543.82,217.87 542.54,219.99 541.16,222.19 539.61,224.33 537.89,226.42 536.00,228.44 533.94,230.38 531.72,232.22 529.34,233.95 526.80,235.56 524.12,237.05 521.30,238.39 518.39,238.82 515.43,239.09 512.43,239.20 509.41,239.15 506.37,238.94 503.31,238.56 500.26,238.01 497.22,237.29 494.19,236.40 491.19,235.34 489.02,232.90 487.02,230.38 485.20,227.78 483.55,225.13 482.08,222.42 480.78,219.68 479.67,216.91 478.73,214.13 477.96,211.34 477.37,208.56 476.84,205.85 476.47,203.16 476.26,200.49 476.21,197.85 476.30,195.26 476.54,192.71 476.93,190.23 477.44,187.81 478.09,185.46 478.86,183.20 480.23,181.05 481.71,179.04 483.29,177.18 484.95,175.47 486.68,173.92 488.46,172.53 490.30,171.30 492.17,170.23 494.06,169.32 495.97,168.58 497.13,167.51 498.34,166.52 499.58,165.61 500.85,164.79 502.15,164.05 503.47,163.40 504.80,162.83 506.15,162.35 507.50,161.94 508.84,161.63 509.90,160.83 511.01,160.08 512.16,159.39 513.36,158.76 514.60,158.19 515.88,157.68 517.19,157.23 518.53,156.86 519.90,156.55 521.30,156.32" fill="none" stroke="#0a179b" stroke-width="0.8"/>
<polyline points="521.30,158.60 522.54,159.61 523.67,160.69 524.69,161.81 525.60,162.98 526.40,164.18 527.08,165.41 527.65,166.65 528.11,167.90 528.46,169.15 528.69,170.40 529.65,170.35 530.63,170.36 531.63,170.45 532.64,170.60 533.67,170.83 534.70,171.13 535.74,171.51 536.77,171.96 537.79,172.49 538.80,173.10 540.43,173.45 542.06,173.96 543.69,174.60 545.31,175.40 546.91,176.34 548.46,177.43 549.97,178.66 551.43,180.03 552.81,181.55 554.12,183.20 554.53,184.94 554.85,186.73 555.07,188.55 555.20,190.41 555.22,192.29 555.13,194.19 554.94,196.11 554.64,198.04 554.23,199.98 553.70,201.91 553.29,203.97 552.74,206.05 552.07,208.12 551.26,210.18 550.32,212.22 549.25,214.24 548.04,216.22 546.70,218.16 545.23,220.05 543.63,221.88 542.26,224.35 540.70,226.77 538.93,229.14 536.97,231.43 534.82,233.65 532.47,235.77 529.94,237.77 527.23,239.66 524.35,241.40 521.30,242.99 518.14,243.45 514.94,243.73 511.69,243.85 508.42,243.79 505.13,243.55 501.83,243.13 498.53,242.53 495.23,241.75 491.96,240.78 488.72,239.63 486.26,237.16 483.97,234.58 481.85,231.91 479.91,229.17 478.15,226.35 476.56,223.48 475.16,220.56 473.94,217.61 472.89,214.64 472.03,211.65 471.94,208.35 472.06,205.12 472.38,201.98 472.89,198.93 473.58,195.99 474.44,193.16 475.46,190.46 476.63,187.89 477.94,185.47 479.38,183.20 480.47,181.06 481.67,179.03 482.97,177.13 484.35,175.35 485.81,173.69 487.34,172.17 488.94,170.78 490.58,169.52 492.26,168.40 493.97,167.42 495.29,166.31 496.65,165.29 498.04,164.36 499.46,163.53 500.90,162.80 502.36,162.16 503.83,161.62 505.30,161.18 506.77,160.82 508.23,160.56 509.50,160.05 510.79,159.60 512.10,159.23 513.41,158.93 514.73,158.70 516.06,158.54 517.38,158.45 518.70,158.43 520.00,158.48 521.30,158.60" fill="none" stroke="#0a0e92" stroke-width="0.8"/>
<polyline points="521.30,162.61 522.36,163.01 523.37,163.47 524.35,163.97 525.27,164.52 526.15,165.11 526.97,165.74 527.74,166.41 528.46,167.11 529.13,167.84 529.73,168.59 530.83,168.52 531.96,168.53 533.11,168.62 534.28,168.78 535.46,169.04 536.66,169.37 537.85,169.80 539.04,170.31 540.22,170.91 541.39,171.60 542.37,172.46 543.32,173.40 544.23,174.40 545.09,175.47 545.90,176.61 546.66,177.81 547.35,179.07 547.99,180.40 548.55,181.77 549.04,183.20 549.51,184.68 549.90,186.21 550.21,187.78 550.43,189.39 550.56,191.04 550.59,192.72 550.53,194.42 550.37,196.14 550.10,197.88 549.74,199.62 549.78,201.70 549.69,203.83 549.45,205.99 549.06,208.19 548.51,210.41 547.80,212.63 546.94,214.86 545.91,217.07 544.72,219.26 543.36,221.41 541.80,223.44 540.09,225.41 538.23,227.31 536.22,229.13 534.07,230.85 531.77,232.48 529.34,233.99 526.78,235.38 524.10,236.63 521.30,237.75 518.40,238.53 515.42,239.15 512.36,239.61 509.25,239.91 506.07,240.02 502.86,239.96 499.60,239.72 496.33,239.29 493.04,238.67 489.75,237.85 487.67,234.98 485.81,232.05 484.16,229.06 482.72,226.04 481.50,223.00 480.48,219.95 479.68,216.91 479.07,213.88 478.67,210.88 478.46,207.93 477.80,205.36 477.30,202.79 476.94,200.23 476.73,197.68 476.66,195.16 476.74,192.67 476.95,190.22 477.29,187.83 477.76,185.48 478.35,183.20 479.72,181.02 481.20,178.99 482.78,177.10 484.44,175.36 486.17,173.79 487.96,172.37 489.80,171.11 491.68,170.01 493.59,169.08 495.50,168.31 496.12,166.85 496.82,165.41 497.60,164.01 498.46,162.63 499.40,161.30 500.42,160.01 501.51,158.76 502.68,157.57 503.92,156.43 505.22,155.35 507.23,155.58 509.16,155.94 511.02,156.42 512.79,157.02 514.47,157.73 516.06,158.54 517.54,159.44 518.91,160.43 520.16,161.49 521.30,162.61" fill="none" stroke="#121048" stroke-width="0.8"/>
<polyline points="521.30,161.76 522.40,162.18 523.46,162.66 524.47,163.19 525.43,163.77 526.34,164.39 527.20,165.05 528.00,165.75 528.74,166.48 529.43,167.25 530.06,168.03 531.28,167.83 532.55,167.72 533.86,167.70 535.19,167.77 536.56,167.94 537.94,168.22 539.33,168.60 540.73,169.09 542.12,169.68 543.50,170.38 545.14,171.05 546.77,171.86 548.37,172.81 549.94,173.89 551.47,175.12 552.95,176.47 554.36,177.96 555.71,179.58 556.97,181.33 558.14,183.20 557.73,185.11 557.23,186.98 556.64,188.80 555.96,190.57 555.18,192.28 554.33,193.93 553.39,195.52 552.38,197.04 551.30,198.49 550.16,199.86 550.61,202.23 550.89,204.70 550.98,207.24 550.89,209.84 550.60,212.50 550.12,215.20 549.42,217.93 548.52,220.67 547.41,223.40 546.08,226.12 544.16,228.06 542.10,229.91 539.90,231.66 537.58,233.32 535.14,234.86 532.58,236.28 529.91,237.57 527.14,238.73 524.26,239.74 521.30,240.60 518.28,240.89 515.22,241.02 512.15,240.98 509.06,240.78 505.97,240.41 502.88,239.88 499.81,239.18 496.76,238.31 493.75,237.28 490.77,236.08 488.47,233.75 486.33,231.33 484.35,228.83 482.54,226.25 480.89,223.61 479.41,220.91 478.10,218.18 476.97,215.41 476.00,212.62 475.20,209.82 474.13,207.24 473.20,204.62 472.42,201.96 471.78,199.29 471.29,196.60 470.94,193.90 470.74,191.21 470.68,188.52 470.76,185.85 470.98,183.20 472.71,180.65 474.57,178.29 476.54,176.11 478.61,174.12 480.75,172.33 482.96,170.74 485.22,169.35 487.52,168.16 489.84,167.17 492.16,166.38 493.30,165.02 494.50,163.73 495.75,162.51 497.06,161.38 498.42,160.32 499.82,159.34 501.26,158.45 502.73,157.65 504.24,156.92 505.76,156.29 507.63,156.37 509.45,156.57 511.20,156.89 512.89,157.31 514.50,157.84 516.04,158.46 517.49,159.17 518.86,159.96 520.13,160.83 521.30,161.76" fill="none" stroke="#181424" stroke-width="0.8"/>
<polyline points="521.30,159.95 522.49,160.42 523.64,160.95 524.73,161.54 525.77,162.18 526.75,162.87 527.67,163.61 528.53,164.38 529.32,165.18 530.05,166.02 530.72,166.89 531.82,167.01 532.93,167.20 534.04,167.46 535.17,167.80 536.29,168.21 537.40,168.70 538.50,169.27 539.59,169.91 540.65,170.63 541.69,171.43 542.75,172.27 543.78,173.19 544.77,174.19 545.71,175.27 546.60,176.42 547.44,177.64 548.22,178.94 548.93,180.30 549.58,181.72 550.14,183.20 550.63,184.74 551.04,186.33 551.36,187.96 551.59,189.64 551.72,191.35 551.76,193.10 551.69,194.87 551.52,196.66 551.25,198.46 550.87,200.27 550.75,202.32 550.49,204.41 550.10,206.52 549.56,208.65 548.88,210.78 548.05,212.90 547.07,215.02 545.94,217.11 544.66,219.17 543.23,221.18 541.81,223.46 540.22,225.68 538.44,227.85 536.49,229.95 534.36,231.96 532.07,233.87 529.61,235.67 526.99,237.35 524.22,238.90 521.30,240.30 518.29,240.58 515.26,240.69 512.20,240.64 509.13,240.43 506.06,240.06 503.00,239.52 499.95,238.82 496.93,237.95 493.93,236.91 490.98,235.71 488.65,233.48 486.46,231.16 484.42,228.74 482.54,226.25 480.82,223.68 479.26,221.05 477.86,218.38 476.63,215.66 475.56,212.90 474.65,210.13 474.28,207.16 474.08,204.22 474.06,201.33 474.22,198.50 474.53,195.73 475.01,193.04 475.63,190.43 476.40,187.92 477.30,185.51 478.33,183.20 479.80,181.02 481.37,179.00 483.04,177.14 484.79,175.44 486.61,173.91 488.49,172.54 490.41,171.34 492.37,170.32 494.34,169.46 496.32,168.78 497.31,167.62 498.35,166.52 499.43,165.49 500.56,164.53 501.74,163.64 502.94,162.81 504.18,162.06 505.45,161.39 506.74,160.79 508.05,160.26 509.42,159.89 510.79,159.59 512.15,159.38 513.51,159.24 514.86,159.18 516.20,159.19 517.51,159.27 518.80,159.43 520.07,159.66 521.30,159.95" fill="none" stroke="#f01818" stroke-width="1.4"/>
<text x="521.30" y="85.86" text-anchor="middle" class="pl">Jan</text>
<text x="571.47" y="99.31" text-anchor="middle" class="pl">Feb</text>
<text x="608.19" y="136.03" text-anchor="middle" class="pl">Mar</text>
<text x="621.64" y="186.20" text-anchor="middle" class="pl">Apr</text>
<text x="608.19" y="236.37" text-anchor="middle" class="pl">May</text>
<text x="571.47" y="273.09" text-anchor="middle" class="pl">Jun</text>
<text x="521.30" y="286.54" text-anchor="middle" class="pl">Jul</text>
<text x="471.13" y="273.09" text-anchor="middle" class="pl">Aug</text>
<text x="434.41" y="236.37" text-anchor="middle" class="pl">Sep</text>
<text x="420.96" y="186.20" text-anchor="middle" class="pl">Oct</text>
<text x="434.41" y="136.03" text-anchor="middle" class="pl">Nov</text>
<text x="471.13" y="99.31" text-anchor="middle" class="pl">Dec</text>
<text x="521.2" y="186.20" text-anchor="end" class="pr">0</text>
<text x="521.2" y="156.77" text-anchor="end" class="pr">10</text>
<text x="521.2" y="127.33" text-anchor="end" class="pr">20</text>
<text x="521.2" y="97.90" text-anchor="end" class="pr">30</text>
<defs><linearGradient id="yg" x1="0" y1="1" x2="0" y2="0">
<stop offset="0.000" stop-color="#cfe6e3"/>
<stop offset="0.095" stop-color="#a8dcdc"/>
<stop offset="0.190" stop-color="#8dd3d8"/>
<stop offset="0.238" stop-color="#40c0d8"/>
<stop offset="0.286" stop-color="#10b0d8"/>
<stop offset="0.357" stop-color="#1294d4"/>
<stop offset="0.429" stop-color="#1470cc"/>
<stop offset="0.524" stop-color="#145ac4"/>
<stop offset="0.667" stop-color="#0c40b4"/>
<stop offset="0.810" stop-color="#0a20a4"/>
<stop offset="0.905" stop-color="#0a0e92"/>
<stop offset="0.952" stop-color="#121048"/>
<stop offset="1.000" stop-color="#181424"/>
</linearGradient></defs>
<text x="653" y="150" class="lg">Year</text>
<rect x="653" y="155.8" width="13.8" height="69.1" fill="url(#yg)"/>
<line x1="653" x2="655.8" y1="212.20" y2="212.20" stroke="#fff" stroke-opacity="0.6" stroke-width="0.8"/>
<line x1="664" x2="666.8" y1="212.20" y2="212.20" stroke="#fff" stroke-opacity="0.6" stroke-width="0.8"/>
<text x="671.6" y="215.80" class="lt">2000</text>
<line x1="653" x2="655.8" y1="195.60" y2="195.60" stroke="#fff" stroke-opacity="0.6" stroke-width="0.8"/>
<line x1="664" x2="666.8" y1="195.60" y2="195.60" stroke="#fff" stroke-opacity="0.6" stroke-width="0.8"/>
<text x="671.6" y="199.20" class="lt">2005</text>
<line x1="653" x2="655.8" y1="179.00" y2="179.00" stroke="#fff" stroke-opacity="0.6" stroke-width="0.8"/>
<line x1="664" x2="666.8" y1="179.00" y2="179.00" stroke="#fff" stroke-opacity="0.6" stroke-width="0.8"/>
<text x="671.6" y="182.60" class="lt">2010</text>
<line x1="653" x2="655.8" y1="162.40" y2="162.40" stroke="#fff" stroke-opacity="0.6" stroke-width="0.8"/>
<line x1="664" x2="666.8" y1="162.40" y2="162.40" stroke="#fff" stroke-opacity="0.6" stroke-width="0.8"/>
<text x="671.6" y="166.00" class="lt">2015</text>
<rect x="627.6" y="1.2" width="61" height="86" fill="none" stroke="#ececec" stroke-width="0.6"/>
<line x1="627.6" x2="688.6" y1="12.6" y2="12.6" stroke="#f0f0f0" stroke-width="0.6" stroke-dasharray="1 1"/>
<text x="658.2" y="9.6" text-anchor="middle" style="font-size:9.1px;fill:#2a2a2a">United States</text>
<polygon points="631.25,31.17 631.02,33.84 628.68,38.87 628.30,40.88 628.91,45.24 629.93,48.89 633.30,52.32 636.22,52.59 640.35,55.01 643.79,55.44 645.97,55.03 648.13,57.99 649.84,58.86 652.07,57.99 654.35,60.95 657.31,63.00 657.09,60.64 660.55,58.52 661.69,58.25 665.27,58.76 667.58,58.89 666.95,57.42 668.90,56.66 671.43,56.83 674.00,57.08 676.04,59.37 677.77,61.79 679.64,62.41 679.80,60.50 678.60,58.40 677.10,55.82 677.41,54.13 679.23,52.08 680.49,51.11 682.94,49.13 681.84,47.14 681.73,46.26 682.45,44.96 683.15,43.27 682.84,42.16 684.83,41.22 686.70,40.01 685.68,38.94 685.39,38.36 686.75,36.85 688.40,35.37 686.63,32.84 685.17,32.82 683.86,36.24 680.66,36.91 679.08,38.23 676.55,39.80 676.89,40.39 672.85,41.96 673.17,40.65 672.97,38.77 671.59,37.30 670.25,36.56 666.76,34.99 665.19,35.09 660.06,33.66 659.67,34.03 632.81,30.80" fill="#d3d3d3" stroke="#c8c8c8" stroke-width="0.3"/>
<polygon points="628.68,38.87 636.48,40.65 637.22,37.83 638.10,36.46 637.76,35.75 635.79,35.35 633.67,35.40 630.98,33.96 629.11,37.67" fill="#3c78b6"/>
<polygon points="658.37,40.89 663.95,40.78 662.71,38.95 662.61,36.83 665.19,35.09 660.06,33.66 659.67,34.03 657.74,34.03 658.39,37.76" fill="#3c78b6"/>
<polygon points="643.89,48.21 650.83,48.84 650.29,55.12 645.88,54.77 645.97,55.03 643.88,54.82 643.79,55.44 642.74,55.32" fill="#3c78b6"/>
<polygon points="671.20,51.04 674.14,50.73 677.27,54.02 677.10,55.82 672.76,56.33 672.58,55.97 672.29,54.73" fill="#3c78b6"/>
<polygon points="665.65,51.44 672.73,50.88 675.43,48.53 666.44,49.50 666.26,50.14" fill="#3c78b6"/>
<polygon points="677.16,44.32 681.19,43.64 682.48,45.08 681.50,45.78 680.15,44.99 678.55,44.49 677.28,44.94" fill="#3c78b6"/>
<polygon points="676.25,41.51 681.01,40.71 681.83,41.32 682.81,42.04 683.24,41.56 682.86,39.44 681.96,36.65 680.66,36.91 679.08,38.23 676.55,39.80 676.89,40.39 676.18,41.14" fill="#3c78b6"/>
<polygon points="682.88,40.27 684.67,39.95 684.93,40.81 683.13,41.58" fill="#3c78b6"/>
<polyline points="630.98,33.96 633.67,35.40 635.79,35.35 637.76,35.75" fill="none" stroke="#ffffff" stroke-width="0.45" stroke-opacity="0.9"/>
<polyline points="628.68,38.87 642.82,41.69" fill="none" stroke="#ffffff" stroke-width="0.45" stroke-opacity="0.9"/>
<polyline points="638.71,32.12 636.48,40.65" fill="none" stroke="#ffffff" stroke-width="0.45" stroke-opacity="0.9"/>
<polyline points="633.34,40.00 632.24,43.66 637.00,49.77" fill="none" stroke="#ffffff" stroke-width="0.45" stroke-opacity="0.9"/>
<polyline points="639.64,41.21 637.70,49.89" fill="none" stroke="#ffffff" stroke-width="0.45" stroke-opacity="0.9"/>
<polyline points="639.66,32.29 640.60,36.90 643.40,38.59 642.59,42.94 644.75,43.21" fill="none" stroke="#ffffff" stroke-width="0.45" stroke-opacity="0.9"/>
<polyline points="643.51,37.97 650.67,38.72" fill="none" stroke="#ffffff" stroke-width="0.45" stroke-opacity="0.9"/>
<polyline points="642.59,42.94 641.66,47.92" fill="none" stroke="#ffffff" stroke-width="0.45" stroke-opacity="0.9"/>
<polyline points="638.25,47.41 650.83,48.84 660.51,49.08" fill="none" stroke="#ffffff" stroke-width="0.45" stroke-opacity="0.9"/>
<polyline points="644.75,43.21 642.80,55.33" fill="none" stroke="#ffffff" stroke-width="0.45" stroke-opacity="0.9"/>
<polyline points="651.16,33.76 650.17,43.73 652.35,43.86 651.98,48.90" fill="none" stroke="#ffffff" stroke-width="0.45" stroke-opacity="0.9"/>
<polyline points="650.83,48.84 650.29,55.12 646.00,54.78" fill="none" stroke="#ffffff" stroke-width="0.45" stroke-opacity="0.9"/>
<polyline points="650.78,49.47 654.25,49.64 654.13,52.16 660.71,53.24" fill="none" stroke="#ffffff" stroke-width="0.45" stroke-opacity="0.9"/>
<polyline points="650.79,37.47 658.39,37.76" fill="none" stroke="#ffffff" stroke-width="0.45" stroke-opacity="0.9"/>
<polyline points="650.42,41.22 658.37,41.52" fill="none" stroke="#ffffff" stroke-width="0.45" stroke-opacity="0.9"/>
<polyline points="652.26,45.12 659.67,45.30" fill="none" stroke="#ffffff" stroke-width="0.45" stroke-opacity="0.9"/>
<polyline points="657.74,34.03 658.39,37.76 658.37,40.89 663.95,40.78" fill="none" stroke="#ffffff" stroke-width="0.45" stroke-opacity="0.9"/>
<polyline points="662.61,36.83 662.71,38.95 663.95,40.78" fill="none" stroke="#ffffff" stroke-width="0.45" stroke-opacity="0.9"/>
<polyline points="659.23,44.55 663.95,44.44" fill="none" stroke="#ffffff" stroke-width="0.45" stroke-opacity="0.9"/>
<polyline points="660.44,44.54 660.53,49.71 665.86,49.53" fill="none" stroke="#ffffff" stroke-width="0.45" stroke-opacity="0.9"/>
<polyline points="660.64,49.71 661.33,54.11 664.98,54.00" fill="none" stroke="#ffffff" stroke-width="0.45" stroke-opacity="0.9"/>
<polyline points="661.33,54.11 661.43,58.25" fill="none" stroke="#ffffff" stroke-width="0.45" stroke-opacity="0.9"/>
<polyline points="663.95,40.78 664.75,43.27 663.95,44.44 665.44,46.90 666.74,48.85 666.26,50.14 665.89,51.43 664.85,54.00 664.38,56.54 666.75,56.42 666.95,57.42" fill="none" stroke="#ffffff" stroke-width="0.45" stroke-opacity="0.9"/>
<polyline points="664.67,42.01 667.65,41.83" fill="none" stroke="#ffffff" stroke-width="0.45" stroke-opacity="0.9"/>
<polyline points="668.08,42.81 668.56,47.46" fill="none" stroke="#ffffff" stroke-width="0.45" stroke-opacity="0.9"/>
<polyline points="670.98,42.55 671.43,45.81" fill="none" stroke="#ffffff" stroke-width="0.45" stroke-opacity="0.9"/>
<polyline points="666.85,48.84 668.13,47.74 670.26,47.32 671.43,45.81 674.02,46.41 675.84,43.36" fill="none" stroke="#ffffff" stroke-width="0.45" stroke-opacity="0.9"/>
<polyline points="668.08,42.81 672.37,42.40" fill="none" stroke="#ffffff" stroke-width="0.45" stroke-opacity="0.9"/>
<polyline points="666.44,49.50 675.43,48.53 672.73,50.88" fill="none" stroke="#ffffff" stroke-width="0.45" stroke-opacity="0.9"/>
<polyline points="665.65,51.44 672.73,50.88" fill="none" stroke="#ffffff" stroke-width="0.45" stroke-opacity="0.9"/>
<polyline points="668.13,51.29 668.67,56.93" fill="none" stroke="#ffffff" stroke-width="0.45" stroke-opacity="0.9"/>
<polyline points="671.20,51.04 672.29,54.73 672.58,55.97 669.36,56.25" fill="none" stroke="#ffffff" stroke-width="0.45" stroke-opacity="0.9"/>
<polyline points="672.58,55.97 672.76,56.33 677.10,55.82" fill="none" stroke="#ffffff" stroke-width="0.45" stroke-opacity="0.9"/>
<polyline points="674.14,50.73 677.27,54.02" fill="none" stroke="#ffffff" stroke-width="0.45" stroke-opacity="0.9"/>
<polyline points="674.14,50.73 679.81,51.35" fill="none" stroke="#ffffff" stroke-width="0.45" stroke-opacity="0.9"/>
<polyline points="673.13,48.81 682.06,47.55" fill="none" stroke="#ffffff" stroke-width="0.45" stroke-opacity="0.9"/>
<polyline points="673.13,48.81 674.89,47.45 676.06,44.48" fill="none" stroke="#ffffff" stroke-width="0.45" stroke-opacity="0.9"/>
<polyline points="675.51,41.62 676.06,44.48 681.19,43.64" fill="none" stroke="#ffffff" stroke-width="0.45" stroke-opacity="0.9"/>
<polyline points="676.25,41.51 681.01,40.71 681.83,41.32 682.81,42.04" fill="none" stroke="#ffffff" stroke-width="0.45" stroke-opacity="0.9"/>
<polyline points="682.06,36.63 683.10,40.29 683.24,41.56" fill="none" stroke="#ffffff" stroke-width="0.45" stroke-opacity="0.9"/>
<polyline points="683.86,36.24 684.67,39.95 684.93,40.81" fill="none" stroke="#ffffff" stroke-width="0.45" stroke-opacity="0.9"/>
<polyline points="682.86,39.44 685.50,38.72" fill="none" stroke="#ffffff" stroke-width="0.45" stroke-opacity="0.9"/>
<polyline points="682.86,36.46 683.69,39.26" fill="none" stroke="#ffffff" stroke-width="0.45" stroke-opacity="0.9"/>
<polyline points="684.28,35.88 685.18,38.40" fill="none" stroke="#ffffff" stroke-width="0.45" stroke-opacity="0.9"/>
<rect x="633.99" y="33.11" width="1.6" height="0.7" fill="#444" fill-opacity="0.6"/>
<rect x="632.77" y="37.10" width="1.6" height="0.7" fill="#444" fill-opacity="0.6"/>
<rect x="631.44" y="45.27" width="1.6" height="0.7" fill="#444" fill-opacity="0.6"/>
<rect x="635.35" y="43.73" width="1.6" height="0.7" fill="#444" fill-opacity="0.6"/>
<rect x="638.88" y="38.31" width="1.6" height="0.7" fill="#444" fill-opacity="0.6"/>
<rect x="644.65" y="35.34" width="1.6" height="0.7" fill="#444" fill-opacity="0.6"/>
<rect x="645.93" y="40.54" width="1.6" height="0.7" fill="#444" fill-opacity="0.6"/>
<rect x="640.73" y="44.61" width="1.6" height="0.7" fill="#444" fill-opacity="0.6"/>
<rect x="639.41" y="50.82" width="1.6" height="0.7" fill="#444" fill-opacity="0.6"/>
<rect x="647.45" y="45.76" width="1.6" height="0.7" fill="#444" fill-opacity="0.6"/>
<rect x="646.18" y="51.48" width="1.6" height="0.7" fill="#444" fill-opacity="0.6"/>
<rect x="653.63" y="35.58" width="1.6" height="0.7" fill="#444" fill-opacity="0.6"/>
<rect x="653.63" y="39.33" width="1.6" height="0.7" fill="#444" fill-opacity="0.6"/>
<rect x="653.98" y="42.99" width="1.6" height="0.7" fill="#444" fill-opacity="0.6"/>
<rect x="655.39" y="46.82" width="1.6" height="0.7" fill="#444" fill-opacity="0.6"/>
<rect x="656.34" y="50.50" width="1.6" height="0.7" fill="#444" fill-opacity="0.6"/>
<rect x="654.38" y="55.62" width="1.6" height="0.7" fill="#444" fill-opacity="0.6"/>
<rect x="659.82" y="37.02" width="1.6" height="0.7" fill="#444" fill-opacity="0.6"/>
<rect x="660.79" y="42.40" width="1.6" height="0.7" fill="#444" fill-opacity="0.6"/>
<rect x="662.06" y="46.91" width="1.6" height="0.7" fill="#444" fill-opacity="0.6"/>
<rect x="662.37" y="51.32" width="1.6" height="0.7" fill="#444" fill-opacity="0.6"/>
<rect x="663.08" y="56.21" width="1.6" height="0.7" fill="#444" fill-opacity="0.6"/>
<rect x="664.52" y="38.98" width="1.6" height="0.7" fill="#444" fill-opacity="0.6"/>
<rect x="665.62" y="44.72" width="1.6" height="0.7" fill="#444" fill-opacity="0.6"/>
<rect x="668.84" y="44.61" width="1.6" height="0.7" fill="#444" fill-opacity="0.6"/>
<rect x="672.61" y="43.71" width="1.6" height="0.7" fill="#444" fill-opacity="0.6"/>
<rect x="669.96" y="39.81" width="1.6" height="0.7" fill="#444" fill-opacity="0.6"/>
<rect x="670.34" y="47.52" width="1.6" height="0.7" fill="#444" fill-opacity="0.6"/>
<rect x="669.45" y="49.76" width="1.6" height="0.7" fill="#444" fill-opacity="0.6"/>
<rect x="665.78" y="53.94" width="1.6" height="0.7" fill="#444" fill-opacity="0.6"/>
<rect x="669.30" y="53.57" width="1.6" height="0.7" fill="#444" fill-opacity="0.6"/>
<rect x="674.06" y="53.34" width="1.6" height="0.7" fill="#444" fill-opacity="0.6"/>
<rect x="676.43" y="58.37" width="1.6" height="0.7" fill="#444" fill-opacity="0.6"/>
<rect x="676.17" y="51.42" width="1.6" height="0.7" fill="#444" fill-opacity="0.6"/>
<rect x="677.54" y="49.18" width="1.6" height="0.7" fill="#444" fill-opacity="0.6"/>
<rect x="677.70" y="46.58" width="1.6" height="0.7" fill="#444" fill-opacity="0.6"/>
<rect x="675.41" y="45.52" width="1.6" height="0.7" fill="#444" fill-opacity="0.6"/>
<rect x="678.09" y="42.15" width="1.6" height="0.7" fill="#444" fill-opacity="0.6"/>
<rect x="679.68" y="39.17" width="1.6" height="0.7" fill="#444" fill-opacity="0.6"/>
<rect x="685.22" y="34.99" width="1.6" height="0.7" fill="#444" fill-opacity="0.6"/>
<rect x="682.22" y="37.37" width="1.6" height="0.7" fill="#444" fill-opacity="0.6"/>
<rect x="683.44" y="37.49" width="1.6" height="0.7" fill="#444" fill-opacity="0.6"/>
<rect x="683.55" y="39.28" width="1.6" height="0.7" fill="#444" fill-opacity="0.6"/>
<rect x="682.97" y="40.32" width="1.6" height="0.7" fill="#444" fill-opacity="0.6"/>
<rect x="681.64" y="42.41" width="1.6" height="0.7" fill="#444" fill-opacity="0.6"/>
<rect x="680.94" y="44.10" width="1.6" height="0.7" fill="#444" fill-opacity="0.6"/>
<circle cx="652.7" cy="68.6" r="0.8" fill="#3c78b6"/>
<circle cx="652.7" cy="72.8" r="0.8" fill="#cfcfcf"/>
<text x="656" y="70.0" style="font-size:3.8px;fill:#444">FoodNet Surveyed</text>
<text x="656" y="74.2" style="font-size:3.8px;fill:#666">Non-Surveyed</text>
<path d="M633,69.5 l2.2,-0.6 l1,1.4 l-0.4,2.5 l1.5,1.2 l-1.8,-0.3 l-2.2,0.6 z" fill="#d8d8d8"/>
<polyline points="635,74 639,76 642,79" fill="none" stroke="#999" stroke-width="0.35"/>
<polyline points="645,75.5 648,78" fill="none" stroke="#aaa" stroke-width="0.35"/>
<rect x="632" y="80.4" width="8" height="0.8" fill="#ccc"/>
<rect x="644" y="80.8" width="7" height="0.8" fill="#ccc"/>
<rect x="638.5" y="77.5" width="1.2" height="0.6" fill="#555"/>
<rect x="647.5" y="77.8" width="1" height="1" fill="#bbb"/>
<rect x="628" y="296.3" width="60.3" height="10.2" fill="#fff" stroke="#e2e2e2" stroke-width="0.6"/>
<text x="658.2" y="303.9" text-anchor="middle" style="font-size:7.95px;fill:#111">Salmonella</text>
<defs>
<linearGradient id="rodA" x1="0" y1="0" x2="1" y2="0.3"><stop offset="0" stop-color="#b090c8"/><stop offset="0.4" stop-color="#8c6aa8"/><stop offset="0.75" stop-color="#a87498"/><stop offset="1" stop-color="#c08aa8"/></linearGradient>
<linearGradient id="rodB" x1="0" y1="0" x2="0.3" y2="1"><stop offset="0" stop-color="#dca0bc"/><stop offset="0.35" stop-color="#c08cb4"/><stop offset="0.7" stop-color="#9070a8"/><stop offset="1" stop-color="#70549a"/></linearGradient>
<clipPath id="sclip"><rect x="628" y="312" width="60.5" height="61"/></clipPath>
<clipPath id="rclip"><polygon points="640.5,312 671,312 679,320 687,335 689,337 689,373 672,373 666,358 660,348 656,341 652,335 646,325"/><polygon points="628,336 637,337 646,340 652,343 658,348 666,355 676,364 684,373 628,373"/></clipPath>
</defs>
<g clip-path="url(#sclip)">
<rect x="628" y="312" width="60.5" height="61" fill="#0a0408"/>
<polygon points="640.5,312 671,312 679,320 687,335 689,337 689,373 672,373 666,358 660,348 656,341 652,335 646,325" fill="url(#rodA)"/>
<polygon points="628,336 637,337 646,340 652,343 658,348 666,355 676,364 684,373 628,373" fill="url(#rodB)"/>
<g clip-path="url(#rclip)">
<polygon points="664,346 689,352 689,373 670,373" fill="#6a4478" fill-opacity="0.55"/>
<polygon points="655,330 662,330 689,368 682,373" fill="#c0a0d8" fill-opacity="0.35"/>
<rect x="642.4" y="345.2" width="1.3" height="1" fill="#4a2a5a" fill-opacity="0.55"/>
<rect x="665.9" y="316.0" width="1" height="1" fill="#f0d0ea" fill-opacity="0.55"/>
<rect x="661.3" y="323.7" width="1" height="1.3" fill="#f8e0f0" fill-opacity="0.55"/>
<rect x="678.6" y="341.1" width="0.8" height="0.8" fill="#f8e0f0" fill-opacity="0.55"/>
<rect x="666.4" y="365.0" width="1" height="1.3" fill="#3a1a3a" fill-opacity="0.55"/>
<rect x="628.9" y="359.4" width="1.3" height="0.8" fill="#e8c0e0" fill-opacity="0.55"/>
<rect x="646.2" y="313.9" width="1" height="1" fill="#5a3a6a" fill-opacity="0.55"/>
<rect x="664.0" y="368.1" width="1.3" height="1" fill="#c8a0d8" fill-opacity="0.55"/>
<rect x="651.9" y="360.9" width="0.8" height="1" fill="#c8a0d8" fill-opacity="0.55"/>
<rect x="633.9" y="320.3" width="1" height="1.3" fill="#e8c0e0" fill-opacity="0.55"/>
<rect x="654.4" y="350.2" width="1" height="1.3" fill="#4a2a5a" fill-opacity="0.55"/>
<rect x="678.4" y="347.0" width="1.3" height="1" fill="#3a1a3a" fill-opacity="0.55"/>
<rect x="663.3" y="367.2" width="0.8" height="1" fill="#f8e0f0" fill-opacity="0.55"/>
<rect x="688.0" y="352.9" width="1.3" height="1" fill="#e8c0e0" fill-opacity="0.55"/>
<rect x="686.4" y="367.2" width="0.8" height="1.3" fill="#3a1a3a" fill-opacity="0.55"/>
<rect x="667.7" y="350.6" width="1" height="1" fill="#3a1a3a" fill-opacity="0.55"/>
<rect x="635.5" y="341.4" width="1" height="0.8" fill="#f8e0f0" fill-opacity="0.55"/>
<rect x="648.8" y="316.1" width="0.8" height="1" fill="#e8c0e0" fill-opacity="0.55"/>
<rect x="653.8" y="337.3" width="0.8" height="1.3" fill="#f0d0ea" fill-opacity="0.55"/>
<rect x="665.2" y="314.7" width="1.3" height="1" fill="#f8e0f0" fill-opacity="0.55"/>
<rect x="661.3" y="368.2" width="1.3" height="0.8" fill="#4a2a5a" fill-opacity="0.55"/>
<rect x="688.4" y="330.9" width="0.8" height="1.3" fill="#f0d0ea" fill-opacity="0.55"/>
<rect x="660.4" y="369.9" width="1" height="1.3" fill="#c8a0d8" fill-opacity="0.55"/>
<rect x="643.9" y="354.1" width="1" height="1" fill="#5a3a6a" fill-opacity="0.55"/>
<rect x="649.8" y="320.4" width="1" height="1" fill="#5a3a6a" fill-opacity="0.55"/>
<rect x="655.9" y="343.7" width="1.3" height="1.3" fill="#f8e0f0" fill-opacity="0.55"/>
<rect x="661.8" y="349.8" width="1.3" height="1" fill="#5a3a6a" fill-opacity="0.55"/>
<rect x="654.1" y="355.9" width="1" height="1" fill="#e8c0e0" fill-opacity="0.55"/>
<rect x="687.2" y="343.8" width="1" height="0.8" fill="#3a1a3a" fill-opacity="0.55"/>
<rect x="675.7" y="372.2" width="0.8" height="1" fill="#4a2a5a" fill-opacity="0.55"/>
<rect x="665.3" y="350.6" width="1.3" height="1.3" fill="#f0d0ea" fill-opacity="0.55"/>
<rect x="648.1" y="333.5" width="1.3" height="1.3" fill="#4a2a5a" fill-opacity="0.55"/>
<rect x="644.9" y="341.9" width="0.8" height="1.3" fill="#3a1a3a" fill-opacity="0.55"/>
<rect x="629.3" y="334.5" width="1" height="1" fill="#f8e0f0" fill-opacity="0.55"/>
<rect x="663.9" y="331.5" width="0.8" height="1" fill="#4a2a5a" fill-opacity="0.55"/>
<rect x="673.9" y="363.5" width="1" height="1" fill="#4a2a5a" fill-opacity="0.55"/>
<rect x="634.3" y="361.6" width="1.3" height="1.3" fill="#3a1a3a" fill-opacity="0.55"/>
<rect x="636.0" y="342.5" width="1" height="0.8" fill="#f8e0f0" fill-opacity="0.55"/>
<rect x="647.8" y="353.4" width="1.3" height="0.8" fill="#f8e0f0" fill-opacity="0.55"/>
<rect x="634.2" y="331.6" width="1.3" height="0.8" fill="#4a2a5a" fill-opacity="0.55"/>
<rect x="654.5" y="364.2" width="0.8" height="1" fill="#e8c0e0" fill-opacity="0.55"/>
<rect x="672.9" y="325.3" width="1" height="1" fill="#3a1a3a" fill-opacity="0.55"/>
<rect x="641.6" y="319.4" width="0.8" height="1" fill="#3a1a3a" fill-opacity="0.55"/>
<rect x="676.8" y="363.1" width="1" height="1" fill="#e8c0e0" fill-opacity="0.55"/>
<rect x="676.8" y="351.2" width="1.3" height="1" fill="#5a3a6a" fill-opacity="0.55"/>
<rect x="663.7" y="337.7" width="1" height="1" fill="#3a1a3a" fill-opacity="0.55"/>
<rect x="649.0" y="337.4" width="1.3" height="1" fill="#c8a0d8" fill-opacity="0.55"/>
<rect x="630.2" y="337.2" width="0.8" height="1" fill="#e8c0e0" fill-opacity="0.55"/>
<rect x="685.1" y="365.7" width="1" height="1.3" fill="#3a1a3a" fill-opacity="0.55"/>
<rect x="685.5" y="368.6" width="0.8" height="1.3" fill="#e8c0e0" fill-opacity="0.55"/>
<rect x="655.6" y="358.0" width="1.3" height="1" fill="#f8e0f0" fill-opacity="0.55"/>
<rect x="660.9" y="366.3" width="0.8" height="1.3" fill="#5a3a6a" fill-opacity="0.55"/>
<rect x="686.7" y="319.3" width="0.8" height="0.8" fill="#e8c0e0" fill-opacity="0.55"/>
<rect x="682.7" y="354.3" width="1" height="1.3" fill="#e8c0e0" fill-opacity="0.55"/>
<rect x="631.0" y="341.3" width="0.8" height="1.3" fill="#f0d0ea" fill-opacity="0.55"/>
<rect x="646.1" y="352.4" width="1.3" height="1" fill="#3a1a3a" fill-opacity="0.55"/>
<rect x="631.2" y="367.7" width="1" height="0.8" fill="#f0d0ea" fill-opacity="0.55"/>
<rect x="643.3" y="364.6" width="0.8" height="1" fill="#c8a0d8" fill-opacity="0.55"/>
<rect x="641.4" y="319.5" width="0.8" height="0.8" fill="#5a3a6a" fill-opacity="0.55"/>
<rect x="642.5" y="328.7" width="0.8" height="0.8" fill="#5a3a6a" fill-opacity="0.55"/>
<rect x="657.5" y="346.8" width="0.8" height="1" fill="#c8a0d8" fill-opacity="0.55"/>
<rect x="643.0" y="349.7" width="1" height="0.8" fill="#3a1a3a" fill-opacity="0.55"/>
<rect x="656.6" y="359.4" width="0.8" height="0.8" fill="#f0d0ea" fill-opacity="0.55"/>
<rect x="630.8" y="315.0" width="0.8" height="1.3" fill="#c8a0d8" fill-opacity="0.55"/>
<rect x="633.2" y="342.6" width="0.8" height="1" fill="#4a2a5a" fill-opacity="0.55"/>
<rect x="632.3" y="335.5" width="1.3" height="1" fill="#c8a0d8" fill-opacity="0.55"/>
<rect x="649.8" y="323.7" width="1" height="0.8" fill="#4a2a5a" fill-opacity="0.55"/>
<rect x="635.7" y="312.2" width="1" height="0.8" fill="#f8e0f0" fill-opacity="0.55"/>
<rect x="662.3" y="314.6" width="1.3" height="1.3" fill="#c8a0d8" fill-opacity="0.55"/>
<rect x="675.3" y="335.2" width="0.8" height="1.3" fill="#5a3a6a" fill-opacity="0.55"/>
<rect x="681.6" y="315.2" width="1" height="1.3" fill="#f8e0f0" fill-opacity="0.55"/>
<rect x="647.1" y="370.0" width="1" height="0.8" fill="#c8a0d8" fill-opacity="0.55"/>
<rect x="642.8" y="344.7" width="1.3" height="0.8" fill="#f8e0f0" fill-opacity="0.55"/>
<rect x="676.6" y="325.7" width="0.8" height="1" fill="#e8c0e0" fill-opacity="0.55"/>
<rect x="650.6" y="366.8" width="1" height="0.8" fill="#5a3a6a" fill-opacity="0.55"/>
<rect x="656.1" y="319.5" width="1.3" height="1.3" fill="#5a3a6a" fill-opacity="0.55"/>
<rect x="679.4" y="344.3" width="1.3" height="0.8" fill="#c8a0d8" fill-opacity="0.55"/>
<rect x="672.4" y="346.4" width="1.3" height="1.3" fill="#f0d0ea" fill-opacity="0.55"/>
<rect x="628.3" y="320.8" width="1" height="0.8" fill="#5a3a6a" fill-opacity="0.55"/>
<rect x="659.9" y="346.4" width="1" height="0.8" fill="#f8e0f0" fill-opacity="0.55"/>
<rect x="677.6" y="332.8" width="0.8" height="0.8" fill="#5a3a6a" fill-opacity="0.55"/>
<rect x="679.1" y="353.1" width="1.3" height="1" fill="#5a3a6a" fill-opacity="0.55"/>
<rect x="663.0" y="360.7" width="1.3" height="1.3" fill="#f0d0ea" fill-opacity="0.55"/>
<rect x="660.0" y="326.5" width="1.3" height="0.8" fill="#3a1a3a" fill-opacity="0.55"/>
<rect x="684.5" y="315.7" width="1.3" height="0.8" fill="#4a2a5a" fill-opacity="0.55"/>
<rect x="678.1" y="326.8" width="1.3" height="0.8" fill="#e8c0e0" fill-opacity="0.55"/>
<rect x="655.5" y="354.7" width="1" height="1" fill="#c8a0d8" fill-opacity="0.55"/>
<rect x="664.3" y="369.3" width="1" height="0.8" fill="#3a1a3a" fill-opacity="0.55"/>
<rect x="650.7" y="326.4" width="1.3" height="0.8" fill="#c8a0d8" fill-opacity="0.55"/>
<rect x="653.1" y="346.7" width="1.3" height="1.3" fill="#3a1a3a" fill-opacity="0.55"/>
<rect x="669.5" y="321.5" width="0.8" height="0.8" fill="#c8a0d8" fill-opacity="0.55"/>
<rect x="633.8" y="357.6" width="1.3" height="1" fill="#f8e0f0" fill-opacity="0.55"/>
<rect x="663.5" y="364.3" width="1" height="0.8" fill="#e8c0e0" fill-opacity="0.55"/>
<rect x="636.9" y="343.5" width="1.3" height="1.3" fill="#e8c0e0" fill-opacity="0.55"/>
<rect x="685.7" y="330.0" width="1" height="1.3" fill="#f8e0f0" fill-opacity="0.55"/>
<rect x="679.6" y="347.7" width="0.8" height="1" fill="#4a2a5a" fill-opacity="0.55"/>
<rect x="629.4" y="341.2" width="0.8" height="0.8" fill="#c8a0d8" fill-opacity="0.55"/>
<rect x="662.5" y="326.6" width="0.8" height="1" fill="#c8a0d8" fill-opacity="0.55"/>
<rect x="688.0" y="341.3" width="0.8" height="1" fill="#3a1a3a" fill-opacity="0.55"/>
<rect x="663.1" y="367.0" width="1.3" height="0.8" fill="#f8e0f0" fill-opacity="0.55"/>
<rect x="657.1" y="356.0" width="1" height="1.3" fill="#5a3a6a" fill-opacity="0.55"/>
<rect x="681.4" y="314.8" width="0.8" height="1.3" fill="#e8c0e0" fill-opacity="0.55"/>
<rect x="671.4" y="353.2" width="1" height="0.8" fill="#e8c0e0" fill-opacity="0.55"/>
<rect x="681.9" y="359.3" width="0.8" height="1.3" fill="#e8c0e0" fill-opacity="0.55"/>
<rect x="670.6" y="364.4" width="0.8" height="0.8" fill="#4a2a5a" fill-opacity="0.55"/>
<rect x="647.0" y="337.8" width="0.8" height="0.8" fill="#f8e0f0" fill-opacity="0.55"/>
<rect x="633.6" y="362.9" width="0.8" height="1" fill="#4a2a5a" fill-opacity="0.55"/>
<rect x="655.4" y="356.8" width="0.8" height="0.8" fill="#4a2a5a" fill-opacity="0.55"/>
<rect x="648.3" y="338.6" width="0.8" height="0.8" fill="#c8a0d8" fill-opacity="0.55"/>
<rect x="667.0" y="357.3" width="1" height="0.8" fill="#c8a0d8" fill-opacity="0.55"/>
<rect x="660.9" y="319.3" width="0.8" height="1.3" fill="#4a2a5a" fill-opacity="0.55"/>
<rect x="654.2" y="338.7" width="1" height="0.8" fill="#3a1a3a" fill-opacity="0.55"/>
<rect x="659.9" y="354.7" width="1" height="1" fill="#f8e0f0" fill-opacity="0.55"/>
<rect x="645.9" y="353.2" width="1" height="0.8" fill="#f8e0f0" fill-opacity="0.55"/>
<rect x="673.6" y="370.6" width="1.3" height="1.3" fill="#f8e0f0" fill-opacity="0.55"/>
<rect x="659.8" y="352.7" width="1" height="0.8" fill="#3a1a3a" fill-opacity="0.55"/>
<rect x="671.4" y="353.4" width="1.3" height="0.8" fill="#3a1a3a" fill-opacity="0.55"/>
<rect x="667.1" y="356.5" width="0.8" height="1" fill="#e8c0e0" fill-opacity="0.55"/>
<rect x="681.8" y="352.0" width="0.8" height="1.3" fill="#f0d0ea" fill-opacity="0.55"/>
<rect x="636.6" y="332.2" width="1.3" height="1.3" fill="#f8e0f0" fill-opacity="0.55"/>
<rect x="653.4" y="330.3" width="1" height="1" fill="#e8c0e0" fill-opacity="0.55"/>
<rect x="646.9" y="322.8" width="0.8" height="1.3" fill="#f0d0ea" fill-opacity="0.55"/>
<rect x="639.0" y="345.8" width="1.3" height="1" fill="#3a1a3a" fill-opacity="0.55"/>
<rect x="649.7" y="328.2" width="0.8" height="0.8" fill="#c8a0d8" fill-opacity="0.55"/>
<rect x="630.5" y="342.8" width="1.3" height="1.3" fill="#e8c0e0" fill-opacity="0.55"/>
<rect x="649.4" y="332.3" width="1" height="1.3" fill="#c8a0d8" fill-opacity="0.55"/>
<rect x="677.0" y="316.2" width="0.8" height="0.8" fill="#c8a0d8" fill-opacity="0.55"/>
<rect x="644.4" y="318.1" width="1.3" height="1.3" fill="#f0d0ea" fill-opacity="0.55"/>
<rect x="634.8" y="354.6" width="1" height="1.3" fill="#3a1a3a" fill-opacity="0.55"/>
<rect x="673.0" y="361.8" width="0.8" height="1.3" fill="#f8e0f0" fill-opacity="0.55"/>
<rect x="664.8" y="364.4" width="0.8" height="1.3" fill="#5a3a6a" fill-opacity="0.55"/>
<rect x="659.9" y="346.7" width="1" height="1" fill="#e8c0e0" fill-opacity="0.55"/>
<rect x="675.3" y="313.8" width="1" height="1" fill="#5a3a6a" fill-opacity="0.55"/>
<rect x="685.4" y="335.4" width="1.3" height="1" fill="#3a1a3a" fill-opacity="0.55"/>
<rect x="666.3" y="371.6" width="1.3" height="1" fill="#f8e0f0" fill-opacity="0.55"/>
<rect x="682.2" y="352.7" width="1.3" height="0.8" fill="#f0d0ea" fill-opacity="0.55"/>
<rect x="672.0" y="312.1" width="1.3" height="0.8" fill="#5a3a6a" fill-opacity="0.55"/>
<rect x="657.8" y="343.9" width="0.8" height="0.8" fill="#c8a0d8" fill-opacity="0.55"/>
<rect x="675.3" y="324.9" width="1.3" height="1.3" fill="#5a3a6a" fill-opacity="0.55"/>
<rect x="685.3" y="318.8" width="1.3" height="0.8" fill="#4a2a5a" fill-opacity="0.55"/>
<rect x="636.2" y="360.3" width="0.8" height="0.8" fill="#3a1a3a" fill-opacity="0.55"/>
<rect x="649.8" y="326.2" width="1" height="1.3" fill="#f0d0ea" fill-opacity="0.55"/>
<rect x="629.1" y="332.7" width="1" height="1.3" fill="#4a2a5a" fill-opacity="0.55"/>
<rect x="670.0" y="316.9" width="1.3" height="0.8" fill="#5a3a6a" fill-opacity="0.55"/>
<rect x="671.3" y="357.1" width="0.8" height="0.8" fill="#4a2a5a" fill-opacity="0.55"/>
<rect x="680.1" y="338.7" width="0.8" height="1" fill="#5a3a6a" fill-opacity="0.55"/>
<rect x="647.1" y="360.0" width="0.8" height="0.8" fill="#c8a0d8" fill-opacity="0.55"/>
<rect x="670.7" y="335.9" width="1.3" height="0.8" fill="#c8a0d8" fill-opacity="0.55"/>
<rect x="660.5" y="337.7" width="1" height="1" fill="#f8e0f0" fill-opacity="0.55"/>
<rect x="629.4" y="339.9" width="1" height="1" fill="#f8e0f0" fill-opacity="0.55"/>
<rect x="638.9" y="366.9" width="1" height="1" fill="#f8e0f0" fill-opacity="0.55"/>
<rect x="679.4" y="339.3" width="1.3" height="1" fill="#4a2a5a" fill-opacity="0.55"/>
<rect x="641.5" y="312.2" width="1" height="1" fill="#e8c0e0" fill-opacity="0.55"/>
<rect x="636.7" y="340.1" width="0.8" height="0.8" fill="#e8c0e0" fill-opacity="0.55"/>
<rect x="629.3" y="347.7" width="0.8" height="1.3" fill="#3a1a3a" fill-opacity="0.55"/>
<rect x="629.7" y="318.7" width="1" height="1" fill="#e8c0e0" fill-opacity="0.55"/>
<rect x="639.2" y="363.3" width="1" height="1" fill="#c8a0d8" fill-opacity="0.55"/>
<rect x="652.7" y="354.9" width="0.8" height="1" fill="#f0d0ea" fill-opacity="0.55"/>
<rect x="630.4" y="342.1" width="0.8" height="0.8" fill="#e8c0e0" fill-opacity="0.55"/>
<rect x="651.5" y="323.6" width="1.3" height="0.8" fill="#4a2a5a" fill-opacity="0.55"/>
<rect x="649.0" y="319.6" width="1.3" height="1" fill="#f0d0ea" fill-opacity="0.55"/>
<rect x="644.6" y="360.1" width="1" height="1" fill="#c8a0d8" fill-opacity="0.55"/>
<rect x="643.1" y="328.2" width="1" height="1.3" fill="#5a3a6a" fill-opacity="0.55"/>
<rect x="688.1" y="331.3" width="1.3" height="1" fill="#f0d0ea" fill-opacity="0.55"/>
<rect x="686.6" y="348.1" width="0.8" height="0.8" fill="#f0d0ea" fill-opacity="0.55"/>
<rect x="669.2" y="313.2" width="0.8" height="1" fill="#3a1a3a" fill-opacity="0.55"/>
<rect x="631.3" y="351.9" width="0.8" height="1" fill="#4a2a5a" fill-opacity="0.55"/>
<rect x="648.6" y="341.2" width="1.3" height="0.8" fill="#4a2a5a" fill-opacity="0.55"/>
<rect x="651.1" y="357.8" width="1" height="0.8" fill="#f8e0f0" fill-opacity="0.55"/>
<rect x="685.3" y="323.2" width="0.8" height="1.3" fill="#c8a0d8" fill-opacity="0.55"/>
<rect x="651.6" y="332.4" width="1" height="0.8" fill="#f8e0f0" fill-opacity="0.55"/>
<rect x="678.7" y="364.7" width="1.3" height="1" fill="#c8a0d8" fill-opacity="0.55"/>
<rect x="683.9" y="334.1" width="1" height="0.8" fill="#c8a0d8" fill-opacity="0.55"/>
<rect x="654.9" y="354.9" width="1" height="0.8" fill="#4a2a5a" fill-opacity="0.55"/>
<rect x="658.7" y="357.9" width="1.3" height="1" fill="#f8e0f0" fill-opacity="0.55"/>
<rect x="685.4" y="314.6" width="1.3" height="0.8" fill="#e8c0e0" fill-opacity="0.55"/>
<rect x="677.8" y="317.6" width="1.3" height="1.3" fill="#f8e0f0" fill-opacity="0.55"/>
<rect x="633.9" y="326.5" width="1.3" height="0.8" fill="#5a3a6a" fill-opacity="0.55"/>
<rect x="681.2" y="365.2" width="1" height="1.3" fill="#c8a0d8" fill-opacity="0.55"/>
<rect x="667.1" y="372.8" width="0.8" height="0.8" fill="#f0d0ea" fill-opacity="0.55"/>
<rect x="652.2" y="370.3" width="1" height="1.3" fill="#f0d0ea" fill-opacity="0.55"/>
<rect x="646.8" y="339.5" width="1.3" height="0.8" fill="#5a3a6a" fill-opacity="0.55"/>
<rect x="642.6" y="315.0" width="1.3" height="0.8" fill="#e8c0e0" fill-opacity="0.55"/>
<rect x="663.4" y="312.7" width="1" height="0.8" fill="#e8c0e0" fill-opacity="0.55"/>
<rect x="641.3" y="346.3" width="1.3" height="1.3" fill="#c8a0d8" fill-opacity="0.55"/>
<rect x="647.3" y="365.9" width="0.8" height="1" fill="#5a3a6a" fill-opacity="0.55"/>
<rect x="638.7" y="316.8" width="0.8" height="1.3" fill="#5a3a6a" fill-opacity="0.55"/>
<rect x="629.5" y="371.0" width="1" height="0.8" fill="#e8c0e0" fill-opacity="0.55"/>
<rect x="634.6" y="336.3" width="1.3" height="1.3" fill="#5a3a6a" fill-opacity="0.55"/>
<rect x="634.6" y="341.6" width="1.3" height="1" fill="#f8e0f0" fill-opacity="0.55"/>
<rect x="652.4" y="352.3" width="0.8" height="1" fill="#5a3a6a" fill-opacity="0.55"/>
<rect x="678.5" y="348.3" width="1" height="0.8" fill="#5a3a6a" fill-opacity="0.55"/>
<rect x="635.1" y="312.5" width="1.3" height="1.3" fill="#4a2a5a" fill-opacity="0.55"/>
<rect x="632.7" y="333.1" width="0.8" height="1.3" fill="#c8a0d8" fill-opacity="0.55"/>
<rect x="669.5" y="334.2" width="1.3" height="0.8" fill="#5a3a6a" fill-opacity="0.55"/>
<rect x="664.7" y="325.1" width="0.8" height="1" fill="#4a2a5a" fill-opacity="0.55"/>
<rect x="642.3" y="338.8" width="0.8" height="1" fill="#4a2a5a" fill-opacity="0.55"/>
<rect x="638.0" y="368.8" width="0.8" height="1.3" fill="#f8e0f0" fill-opacity="0.55"/>
<rect x="665.0" y="368.8" width="1" height="1" fill="#3a1a3a" fill-opacity="0.55"/>
<rect x="685.4" y="367.1" width="1" height="1" fill="#c8a0d8" fill-opacity="0.55"/>
<rect x="656.4" y="347.8" width="1" height="0.8" fill="#f0d0ea" fill-opacity="0.55"/>
<rect x="639.2" y="317.8" width="0.8" height="1" fill="#f8e0f0" fill-opacity="0.55"/>
<rect x="658.5" y="315.7" width="0.8" height="0.8" fill="#c8a0d8" fill-opacity="0.55"/>
<rect x="673.1" y="328.8" width="0.8" height="1" fill="#c8a0d8" fill-opacity="0.55"/>
<rect x="656.3" y="324.0" width="1" height="0.8" fill="#5a3a6a" fill-opacity="0.55"/>
<rect x="634.3" y="330.3" width="1" height="0.8" fill="#c8a0d8" fill-opacity="0.55"/>
<rect x="640.4" y="341.7" width="1.3" height="1" fill="#5a3a6a" fill-opacity="0.55"/>
<rect x="687.1" y="371.8" width="1" height="0.8" fill="#f8e0f0" fill-opacity="0.55"/>
<rect x="654.1" y="369.3" width="1.3" height="1.3" fill="#c8a0d8" fill-opacity="0.55"/>
<rect x="641.5" y="370.3" width="1" height="0.8" fill="#4a2a5a" fill-opacity="0.55"/>
<rect x="656.0" y="366.1" width="1" height="1.3" fill="#5a3a6a" fill-opacity="0.55"/>
<rect x="642.7" y="361.2" width="0.8" height="0.8" fill="#f0d0ea" fill-opacity="0.55"/>
<rect x="666.1" y="321.1" width="0.8" height="0.8" fill="#f0d0ea" fill-opacity="0.55"/>
<rect x="628.1" y="372.0" width="1" height="1" fill="#5a3a6a" fill-opacity="0.55"/>
<rect x="687.2" y="359.9" width="0.8" height="1" fill="#3a1a3a" fill-opacity="0.55"/>
<rect x="639.2" y="312.8" width="1" height="0.8" fill="#c8a0d8" fill-opacity="0.55"/>
<rect x="664.5" y="361.5" width="1" height="1" fill="#c8a0d8" fill-opacity="0.55"/>
<rect x="643.0" y="360.9" width="1.3" height="1" fill="#c8a0d8" fill-opacity="0.55"/>
<rect x="648.5" y="313.8" width="1.3" height="1.3" fill="#f0d0ea" fill-opacity="0.55"/>
<rect x="638.0" y="358.4" width="0.8" height="0.8" fill="#3a1a3a" fill-opacity="0.55"/>
<rect x="673.0" y="363.3" width="1.3" height="1" fill="#c8a0d8" fill-opacity="0.55"/>
<rect x="661.4" y="329.1" width="0.8" height="0.8" fill="#e8c0e0" fill-opacity="0.55"/>
<rect x="657.4" y="315.7" width="1" height="1" fill="#5a3a6a" fill-opacity="0.55"/>
<rect x="659.5" y="358.0" width="1.3" height="1.3" fill="#5a3a6a" fill-opacity="0.55"/>
<rect x="653.1" y="343.6" width="1" height="0.8" fill="#e8c0e0" fill-opacity="0.55"/>
<rect x="632.5" y="320.5" width="1.3" height="0.8" fill="#5a3a6a" fill-opacity="0.55"/>
<rect x="652.7" y="333.5" width="1" height="1" fill="#c8a0d8" fill-opacity="0.55"/>
<rect x="655.4" y="370.5" width="1.3" height="1" fill="#e8c0e0" fill-opacity="0.55"/>
<rect x="636.4" y="314.3" width="0.8" height="1" fill="#c8a0d8" fill-opacity="0.55"/>
<rect x="684.3" y="349.4" width="1" height="1.3" fill="#f0d0ea" fill-opacity="0.55"/>
<rect x="664.2" y="319.1" width="1" height="1.3" fill="#e8c0e0" fill-opacity="0.55"/>
<rect x="673.6" y="328.3" width="1.3" height="0.8" fill="#c8a0d8" fill-opacity="0.55"/>
<rect x="650.5" y="343.4" width="1.3" height="1" fill="#5a3a6a" fill-opacity="0.55"/>
<rect x="639.8" y="368.2" width="1.3" height="1" fill="#e8c0e0" fill-opacity="0.55"/>
<rect x="685.0" y="336.2" width="1" height="0.8" fill="#f0d0ea" fill-opacity="0.55"/>
<rect x="685.5" y="369.6" width="1.3" height="1" fill="#4a2a5a" fill-opacity="0.55"/>
<rect x="661.6" y="314.2" width="1" height="1" fill="#c8a0d8" fill-opacity="0.55"/>
<rect x="687.3" y="316.8" width="0.8" height="1.3" fill="#e8c0e0" fill-opacity="0.55"/>
<rect x="632.8" y="344.1" width="1.3" height="0.8" fill="#f8e0f0" fill-opacity="0.55"/>
<rect x="666.2" y="361.9" width="1" height="1.3" fill="#f0d0ea" fill-opacity="0.55"/>
<rect x="632.2" y="328.3" width="1" height="1" fill="#c8a0d8" fill-opacity="0.55"/>
<rect x="645.5" y="346.1" width="0.8" height="1" fill="#e8c0e0" fill-opacity="0.55"/>
<rect x="685.9" y="320.8" width="0.8" height="1.3" fill="#f8e0f0" fill-opacity="0.55"/>
<rect x="688.1" y="353.2" width="0.8" height="0.8" fill="#f8e0f0" fill-opacity="0.55"/>
<rect x="651.7" y="323.0" width="0.8" height="1" fill="#f8e0f0" fill-opacity="0.55"/>
<rect x="639.5" y="362.2" width="0.8" height="0.8" fill="#5a3a6a" fill-opacity="0.55"/>
<rect x="659.7" y="321.3" width="1" height="0.8" fill="#e8c0e0" fill-opacity="0.55"/>
<rect x="654.2" y="323.1" width="1" height="0.8" fill="#f0d0ea" fill-opacity="0.55"/>
<rect x="635.9" y="320.9" width="1" height="1" fill="#e8c0e0" fill-opacity="0.55"/>
<rect x="684.7" y="348.8" width="0.8" height="1" fill="#e8c0e0" fill-opacity="0.55"/>
<rect x="688.3" y="371.8" width="0.8" height="1" fill="#e8c0e0" fill-opacity="0.55"/>
<rect x="661.0" y="366.6" width="1.3" height="1" fill="#f0d0ea" fill-opacity="0.55"/>
<rect x="656.6" y="357.1" width="1.3" height="1" fill="#3a1a3a" fill-opacity="0.55"/>
<rect x="662.4" y="340.3" width="1" height="1" fill="#3a1a3a" fill-opacity="0.55"/>
<rect x="637.0" y="339.8" width="0.8" height="1.3" fill="#c8a0d8" fill-opacity="0.55"/>
<rect x="645.9" y="357.7" width="0.8" height="1" fill="#f8e0f0" fill-opacity="0.55"/>
<rect x="686.3" y="363.2" width="1" height="1" fill="#e8c0e0" fill-opacity="0.55"/>
<rect x="678.8" y="320.0" width="0.8" height="1" fill="#3a1a3a" fill-opacity="0.55"/>
<rect x="665.2" y="322.9" width="0.8" height="0.8" fill="#3a1a3a" fill-opacity="0.55"/>
<rect x="680.6" y="360.4" width="1.3" height="1" fill="#3a1a3a" fill-opacity="0.55"/>
<rect x="659.8" y="358.7" width="1" height="1.3" fill="#f0d0ea" fill-opacity="0.55"/>
<rect x="663.1" y="331.9" width="1.3" height="0.8" fill="#3a1a3a" fill-opacity="0.55"/>
<rect x="647.6" y="342.9" width="1.3" height="1" fill="#4a2a5a" fill-opacity="0.55"/>
<rect x="663.8" y="354.9" width="1.3" height="1" fill="#5a3a6a" fill-opacity="0.55"/>
<rect x="680.2" y="362.9" width="1" height="1" fill="#4a2a5a" fill-opacity="0.55"/>
<rect x="639.0" y="348.7" width="1.3" height="1" fill="#e8c0e0" fill-opacity="0.55"/>
<rect x="672.1" y="327.2" width="1" height="1" fill="#c8a0d8" fill-opacity="0.55"/>
<rect x="635.9" y="332.4" width="0.8" height="1.3" fill="#5a3a6a" fill-opacity="0.55"/>
<rect x="660.0" y="338.9" width="0.8" height="0.8" fill="#3a1a3a" fill-opacity="0.55"/>
<rect x="653.3" y="345.5" width="1" height="0.8" fill="#3a1a3a" fill-opacity="0.55"/>
<rect x="642.3" y="335.3" width="0.8" height="1" fill="#e8c0e0" fill-opacity="0.55"/>
<rect x="659.1" y="315.4" width="0.8" height="1" fill="#c8a0d8" fill-opacity="0.55"/>
<rect x="672.3" y="335.8" width="1" height="0.8" fill="#3a1a3a" fill-opacity="0.55"/>
<rect x="646.2" y="342.8" width="1" height="1" fill="#c8a0d8" fill-opacity="0.55"/>
<rect x="682.9" y="353.8" width="1.3" height="1" fill="#f0d0ea" fill-opacity="0.55"/>
<rect x="636.8" y="325.4" width="0.8" height="1.3" fill="#4a2a5a" fill-opacity="0.55"/>
<rect x="628.0" y="366.0" width="1" height="1" fill="#e8c0e0" fill-opacity="0.55"/>
<rect x="645.1" y="313.8" width="1.3" height="1" fill="#3a1a3a" fill-opacity="0.55"/>
<rect x="660.3" y="357.0" width="1.3" height="0.8" fill="#5a3a6a" fill-opacity="0.55"/>
<rect x="654.7" y="353.6" width="1.3" height="1" fill="#f0d0ea" fill-opacity="0.55"/>
<rect x="641.6" y="320.5" width="1" height="1.3" fill="#4a2a5a" fill-opacity="0.55"/>
<rect x="639.5" y="362.2" width="0.8" height="1" fill="#3a1a3a" fill-opacity="0.55"/>
<rect x="629.7" y="333.4" width="1" height="0.8" fill="#f0d0ea" fill-opacity="0.55"/>
<rect x="656.6" y="320.5" width="1.3" height="1.3" fill="#e8c0e0" fill-opacity="0.55"/>
<rect x="654.2" y="350.3" width="1" height="1" fill="#f8e0f0" fill-opacity="0.55"/>
<rect x="645.4" y="351.1" width="1.3" height="0.8" fill="#f8e0f0" fill-opacity="0.55"/>
<rect x="631.9" y="365.5" width="1" height="0.8" fill="#f8e0f0" fill-opacity="0.55"/>
<rect x="679.4" y="331.8" width="1.3" height="0.8" fill="#c8a0d8" fill-opacity="0.55"/>
<rect x="678.0" y="332.2" width="1.3" height="0.8" fill="#c8a0d8" fill-opacity="0.55"/>
<rect x="681.5" y="324.3" width="0.8" height="0.8" fill="#c8a0d8" fill-opacity="0.55"/>
<rect x="666.8" y="313.6" width="1.3" height="0.8" fill="#3a1a3a" fill-opacity="0.55"/>
<rect x="662.7" y="317.2" width="1" height="1.3" fill="#e8c0e0" fill-opacity="0.55"/>
<rect x="652.0" y="333.0" width="1.3" height="1.3" fill="#c8a0d8" fill-opacity="0.55"/>
<rect x="641.7" y="347.0" width="1.3" height="0.8" fill="#4a2a5a" fill-opacity="0.55"/>
<rect x="663.2" y="334.2" width="1" height="1" fill="#3a1a3a" fill-opacity="0.55"/>
<rect x="674.5" y="367.5" width="1.3" height="1.3" fill="#5a3a6a" fill-opacity="0.55"/>
<rect x="659.8" y="339.3" width="1" height="1" fill="#f8e0f0" fill-opacity="0.55"/>
<rect x="666.1" y="342.1" width="0.8" height="0.8" fill="#5a3a6a" fill-opacity="0.55"/>
<rect x="677.8" y="369.2" width="1.3" height="1" fill="#f0d0ea" fill-opacity="0.55"/>
<rect x="679.0" y="331.2" width="0.8" height="1" fill="#5a3a6a" fill-opacity="0.55"/>
<rect x="658.2" y="335.4" width="1.3" height="1.3" fill="#5a3a6a" fill-opacity="0.55"/>
<rect x="631.4" y="336.5" width="0.8" height="0.8" fill="#c8a0d8" fill-opacity="0.55"/>
<rect x="645.2" y="333.1" width="1.3" height="1" fill="#f0d0ea" fill-opacity="0.55"/>
<rect x="672.3" y="324.7" width="1" height="0.8" fill="#4a2a5a" fill-opacity="0.55"/>
<rect x="662.2" y="327.0" width="0.8" height="0.8" fill="#f8e0f0" fill-opacity="0.55"/>
<rect x="677.1" y="334.3" width="0.8" height="1.3" fill="#e8c0e0" fill-opacity="0.55"/>
<rect x="673.4" y="336.0" width="1" height="1.3" fill="#3a1a3a" fill-opacity="0.55"/>
<rect x="638.7" y="330.4" width="0.8" height="0.8" fill="#4a2a5a" fill-opacity="0.55"/>
<rect x="675.6" y="364.4" width="0.8" height="1.3" fill="#c8a0d8" fill-opacity="0.55"/>
<rect x="638.7" y="343.7" width="1.3" height="1" fill="#c8a0d8" fill-opacity="0.55"/>
<rect x="641.4" y="361.9" width="1" height="1" fill="#c8a0d8" fill-opacity="0.55"/>
<rect x="688.2" y="341.5" width="0.8" height="1.3" fill="#e8c0e0" fill-opacity="0.55"/>
<rect x="653.4" y="364.7" width="1.3" height="1" fill="#e8c0e0" fill-opacity="0.55"/>
<rect x="634.5" y="344.2" width="1" height="1" fill="#5a3a6a" fill-opacity="0.55"/>
<rect x="666.1" y="321.3" width="1" height="1" fill="#c8a0d8" fill-opacity="0.55"/>
<rect x="630.5" y="333.2" width="0.8" height="1.3" fill="#f8e0f0" fill-opacity="0.55"/>
<rect x="633.7" y="358.4" width="1.3" height="1" fill="#3a1a3a" fill-opacity="0.55"/>
<rect x="663.3" y="353.4" width="1.3" height="1" fill="#4a2a5a" fill-opacity="0.55"/>
<rect x="687.8" y="363.0" width="1.3" height="1" fill="#f8e0f0" fill-opacity="0.55"/>
<rect x="683.9" y="337.8" width="1.3" height="1" fill="#3a1a3a" fill-opacity="0.55"/>
<rect x="653.6" y="334.6" width="0.8" height="1" fill="#e8c0e0" fill-opacity="0.55"/>
<rect x="670.2" y="346.3" width="1.3" height="0.8" fill="#c8a0d8" fill-opacity="0.55"/>
<rect x="647.6" y="321.9" width="1" height="0.8" fill="#f8e0f0" fill-opacity="0.55"/>
<rect x="660.7" y="340.4" width="1.3" height="1.3" fill="#c8a0d8" fill-opacity="0.55"/>
<rect x="650.1" y="356.2" width="1" height="1.3" fill="#3a1a3a" fill-opacity="0.55"/>
<rect x="640.2" y="342.8" width="0.8" height="0.8" fill="#e8c0e0" fill-opacity="0.55"/>
<rect x="661.4" y="319.2" width="1.3" height="1.3" fill="#c8a0d8" fill-opacity="0.55"/>
<rect x="647.1" y="328.7" width="1" height="1.3" fill="#c8a0d8" fill-opacity="0.55"/>
<rect x="647.0" y="369.4" width="0.8" height="0.8" fill="#f0d0ea" fill-opacity="0.55"/>
<rect x="656.8" y="338.5" width="1" height="1.3" fill="#4a2a5a" fill-opacity="0.55"/>
<rect x="639.3" y="346.9" width="0.8" height="1.3" fill="#3a1a3a" fill-opacity="0.55"/>
<rect x="641.5" y="372.1" width="1" height="1.3" fill="#5a3a6a" fill-opacity="0.55"/>
<rect x="648.8" y="318.5" width="1.3" height="0.8" fill="#5a3a6a" fill-opacity="0.55"/>
<rect x="673.4" y="325.7" width="1" height="0.8" fill="#c8a0d8" fill-opacity="0.55"/>
<rect x="647.8" y="358.5" width="0.8" height="1.3" fill="#e8c0e0" fill-opacity="0.55"/>
<rect x="657.7" y="372.7" width="1" height="1" fill="#e8c0e0" fill-opacity="0.55"/>
<rect x="673.1" y="342.8" width="1.3" height="1" fill="#f8e0f0" fill-opacity="0.55"/>
<rect x="687.2" y="338.2" width="1.3" height="1" fill="#4a2a5a" fill-opacity="0.55"/>
<rect x="663.4" y="335.7" width="0.8" height="0.8" fill="#f0d0ea" fill-opacity="0.55"/>
<rect x="654.1" y="312.1" width="0.8" height="1.3" fill="#5a3a6a" fill-opacity="0.55"/>
<rect x="672.1" y="324.7" width="1.3" height="1.3" fill="#f8e0f0" fill-opacity="0.55"/>
<rect x="650.5" y="314.7" width="1.3" height="1.3" fill="#3a1a3a" fill-opacity="0.55"/>
<rect x="686.4" y="333.8" width="0.8" height="0.8" fill="#f0d0ea" fill-opacity="0.55"/>
<rect x="687.3" y="357.1" width="1" height="1.3" fill="#c8a0d8" fill-opacity="0.55"/>
<rect x="645.5" y="319.1" width="1.3" height="1.3" fill="#4a2a5a" fill-opacity="0.55"/>
<rect x="672.2" y="327.8" width="1.3" height="0.8" fill="#f0d0ea" fill-opacity="0.55"/>
<rect x="681.5" y="320.4" width="1.3" height="0.8" fill="#f0d0ea" fill-opacity="0.55"/>
<rect x="666.1" y="343.6" width="1" height="1.3" fill="#f8e0f0" fill-opacity="0.55"/>
<rect x="688.1" y="349.3" width="0.8" height="1.3" fill="#4a2a5a" fill-opacity="0.55"/>
<rect x="678.0" y="316.3" width="1.3" height="1" fill="#f8e0f0" fill-opacity="0.55"/>
<rect x="638.3" y="314.0" width="1.3" height="1" fill="#3a1a3a" fill-opacity="0.55"/>
<rect x="678.5" y="334.1" width="0.8" height="1" fill="#f0d0ea" fill-opacity="0.55"/>
<rect x="628.7" y="344.7" width="1.3" height="1" fill="#f8e0f0" fill-opacity="0.55"/>
<rect x="665.9" y="338.9" width="0.8" height="1" fill="#e8c0e0" fill-opacity="0.55"/>
<rect x="641.0" y="321.6" width="0.8" height="1" fill="#c8a0d8" fill-opacity="0.55"/>
<rect x="647.1" y="346.9" width="1.3" height="1.3" fill="#3a1a3a" fill-opacity="0.55"/>
<rect x="642.7" y="317.9" width="0.8" height="1.3" fill="#c8a0d8" fill-opacity="0.55"/>
<rect x="648.5" y="324.0" width="1.3" height="1" fill="#3a1a3a" fill-opacity="0.55"/>
<rect x="666.7" y="372.1" width="1.3" height="1.3" fill="#c8a0d8" fill-opacity="0.55"/>
<rect x="640.7" y="347.8" width="1" height="0.8" fill="#f8e0f0" fill-opacity="0.55"/>
<rect x="638.8" y="339.6" width="0.8" height="1" fill="#3a1a3a" fill-opacity="0.55"/>
<rect x="684.1" y="347.5" width="0.8" height="1" fill="#3a1a3a" fill-opacity="0.55"/>
<rect x="659.4" y="330.8" width="0.8" height="0.8" fill="#3a1a3a" fill-opacity="0.55"/>
<rect x="650.2" y="373.0" width="0.8" height="1" fill="#f0d0ea" fill-opacity="0.55"/>
<rect x="632.1" y="360.9" width="1" height="0.8" fill="#f8e0f0" fill-opacity="0.55"/>
<rect x="628.7" y="340.9" width="0.8" height="1.3" fill="#f0d0ea" fill-opacity="0.55"/>
<rect x="658.7" y="341.3" width="0.8" height="1" fill="#f0d0ea" fill-opacity="0.55"/>
<rect x="668.9" y="330.6" width="1" height="1" fill="#c8a0d8" fill-opacity="0.55"/>
<rect x="675.1" y="360.9" width="1.3" height="1.3" fill="#4a2a5a" fill-opacity="0.55"/>
<rect x="633.4" y="370.8" width="0.8" height="1.3" fill="#f0d0ea" fill-opacity="0.55"/>
<rect x="639.6" y="317.1" width="1" height="1.3" fill="#f8e0f0" fill-opacity="0.55"/>
<rect x="673.3" y="356.1" width="1.3" height="0.8" fill="#e8c0e0" fill-opacity="0.55"/>
<rect x="633.0" y="353.1" width="1.3" height="0.8" fill="#3a1a3a" fill-opacity="0.55"/>
<rect x="658.0" y="334.1" width="0.8" height="1" fill="#c8a0d8" fill-opacity="0.55"/>
<rect x="668.3" y="332.3" width="1" height="1" fill="#5a3a6a" fill-opacity="0.55"/>
<rect x="656.2" y="348.7" width="1" height="1" fill="#f0d0ea" fill-opacity="0.55"/>
<rect x="657.1" y="350.7" width="1" height="1.3" fill="#5a3a6a" fill-opacity="0.55"/>
<rect x="643.5" y="333.8" width="1" height="1.3" fill="#f8e0f0" fill-opacity="0.55"/>
<rect x="657.0" y="337.7" width="0.8" height="1.3" fill="#5a3a6a" fill-opacity="0.55"/>
<rect x="648.4" y="315.6" width="1.3" height="0.8" fill="#e8c0e0" fill-opacity="0.55"/>
</g>
<line x1="680.8" y1="326.1" x2="681.7" y2="324.9" stroke="#e0b0d0" stroke-width="0.6" stroke-opacity="0.6"/>
<line x1="672.6" y1="314.3" x2="673.7" y2="313.4" stroke="#e0b0d0" stroke-width="0.6" stroke-opacity="0.6"/>
<line x1="675.1" y1="317.9" x2="677.5" y2="316.2" stroke="#e0b0d0" stroke-width="0.6" stroke-opacity="0.6"/>
<line x1="676.4" y1="319.8" x2="677.5" y2="318.2" stroke="#e0b0d0" stroke-width="0.6" stroke-opacity="0.6"/>
<line x1="682.7" y1="328.9" x2="684.7" y2="327.0" stroke="#e0b0d0" stroke-width="0.6" stroke-opacity="0.6"/>
<line x1="682.6" y1="328.7" x2="683.6" y2="327.5" stroke="#e0b0d0" stroke-width="0.6" stroke-opacity="0.6"/>
<line x1="674.7" y1="317.2" x2="675.9" y2="316.5" stroke="#e0b0d0" stroke-width="0.6" stroke-opacity="0.6"/>
<line x1="681.3" y1="326.8" x2="682.8" y2="324.6" stroke="#e0b0d0" stroke-width="0.6" stroke-opacity="0.6"/>
<line x1="683.3" y1="329.6" x2="684.8" y2="328.2" stroke="#e0b0d0" stroke-width="0.6" stroke-opacity="0.6"/>
<line x1="679.0" y1="323.6" x2="680.3" y2="322.1" stroke="#e0b0d0" stroke-width="0.6" stroke-opacity="0.6"/>
<line x1="677.3" y1="321.1" x2="679.5" y2="320.0" stroke="#e0b0d0" stroke-width="0.6" stroke-opacity="0.6"/>
<line x1="685.6" y1="333.0" x2="687.0" y2="332.6" stroke="#e0b0d0" stroke-width="0.6" stroke-opacity="0.6"/>
<line x1="683.8" y1="330.4" x2="686.3" y2="329.7" stroke="#e0b0d0" stroke-width="0.6" stroke-opacity="0.6"/>
<line x1="673.2" y1="315.2" x2="675.8" y2="314.3" stroke="#e0b0d0" stroke-width="0.6" stroke-opacity="0.6"/>
<line x1="631.7" y1="337.5" x2="631.8" y2="335.2" stroke="#e0b0d0" stroke-width="0.6" stroke-opacity="0.6"/>
<line x1="636.8" y1="339.5" x2="636.9" y2="336.6" stroke="#e0b0d0" stroke-width="0.6" stroke-opacity="0.6"/>
<line x1="641.1" y1="341.2" x2="640.4" y2="340.1" stroke="#e0b0d0" stroke-width="0.6" stroke-opacity="0.6"/>
<line x1="652.9" y1="346.0" x2="652.1" y2="344.2" stroke="#e0b0d0" stroke-width="0.6" stroke-opacity="0.6"/>
<line x1="641.3" y1="341.3" x2="639.9" y2="338.6" stroke="#e0b0d0" stroke-width="0.6" stroke-opacity="0.6"/>
<line x1="628.5" y1="336.2" x2="627.2" y2="333.4" stroke="#e0b0d0" stroke-width="0.6" stroke-opacity="0.6"/>
<line x1="639.6" y1="340.6" x2="638.2" y2="337.8" stroke="#e0b0d0" stroke-width="0.6" stroke-opacity="0.6"/>
<line x1="630.6" y1="337.0" x2="629.2" y2="334.4" stroke="#e0b0d0" stroke-width="0.6" stroke-opacity="0.6"/>
<line x1="634.6" y1="338.7" x2="633.2" y2="336.0" stroke="#e0b0d0" stroke-width="0.6" stroke-opacity="0.6"/>
<line x1="655.0" y1="346.8" x2="654.3" y2="345.3" stroke="#e0b0d0" stroke-width="0.6" stroke-opacity="0.6"/>
<line x1="634.5" y1="338.6" x2="633.9" y2="336.5" stroke="#e0b0d0" stroke-width="0.6" stroke-opacity="0.6"/>
<line x1="640.0" y1="340.8" x2="639.0" y2="338.9" stroke="#e0b0d0" stroke-width="0.6" stroke-opacity="0.6"/>
<line x1="653.1" y1="346.1" x2="652.9" y2="343.0" stroke="#e0b0d0" stroke-width="0.6" stroke-opacity="0.6"/>
<line x1="652.6" y1="345.8" x2="652.0" y2="344.8" stroke="#e0b0d0" stroke-width="0.6" stroke-opacity="0.6"/>
<line x1="634.1" y1="338.4" x2="634.2" y2="337.1" stroke="#e0b0d0" stroke-width="0.6" stroke-opacity="0.6"/>
<line x1="655.2" y1="346.9" x2="654.4" y2="343.9" stroke="#e0b0d0" stroke-width="0.6" stroke-opacity="0.6"/>
<line x1="647.6" y1="327.7" x2="646.4" y2="329.2" stroke="#e0b0d0" stroke-width="0.6" stroke-opacity="0.6"/>
<line x1="658.7" y1="345.8" x2="657.5" y2="346.8" stroke="#e0b0d0" stroke-width="0.6" stroke-opacity="0.6"/>
<line x1="659.2" y1="346.8" x2="657.8" y2="347.0" stroke="#e0b0d0" stroke-width="0.6" stroke-opacity="0.6"/>
<line x1="650.4" y1="332.2" x2="648.7" y2="334.0" stroke="#e0b0d0" stroke-width="0.6" stroke-opacity="0.6"/>
<line x1="658.6" y1="345.7" x2="657.1" y2="346.8" stroke="#e0b0d0" stroke-width="0.6" stroke-opacity="0.6"/>
<line x1="655.2" y1="340.1" x2="653.4" y2="341.6" stroke="#e0b0d0" stroke-width="0.6" stroke-opacity="0.6"/>
<line x1="647.7" y1="327.9" x2="646.4" y2="329.6" stroke="#e0b0d0" stroke-width="0.6" stroke-opacity="0.6"/>
<line x1="658.2" y1="345.0" x2="657.0" y2="346.3" stroke="#e0b0d0" stroke-width="0.6" stroke-opacity="0.6"/>
<path d="M634.5,312 Q637,318 640,321 T646,331 T651,337" fill="none" stroke="#c87aa8" stroke-width="0.9"/>
</g>
</svg></body></html>
